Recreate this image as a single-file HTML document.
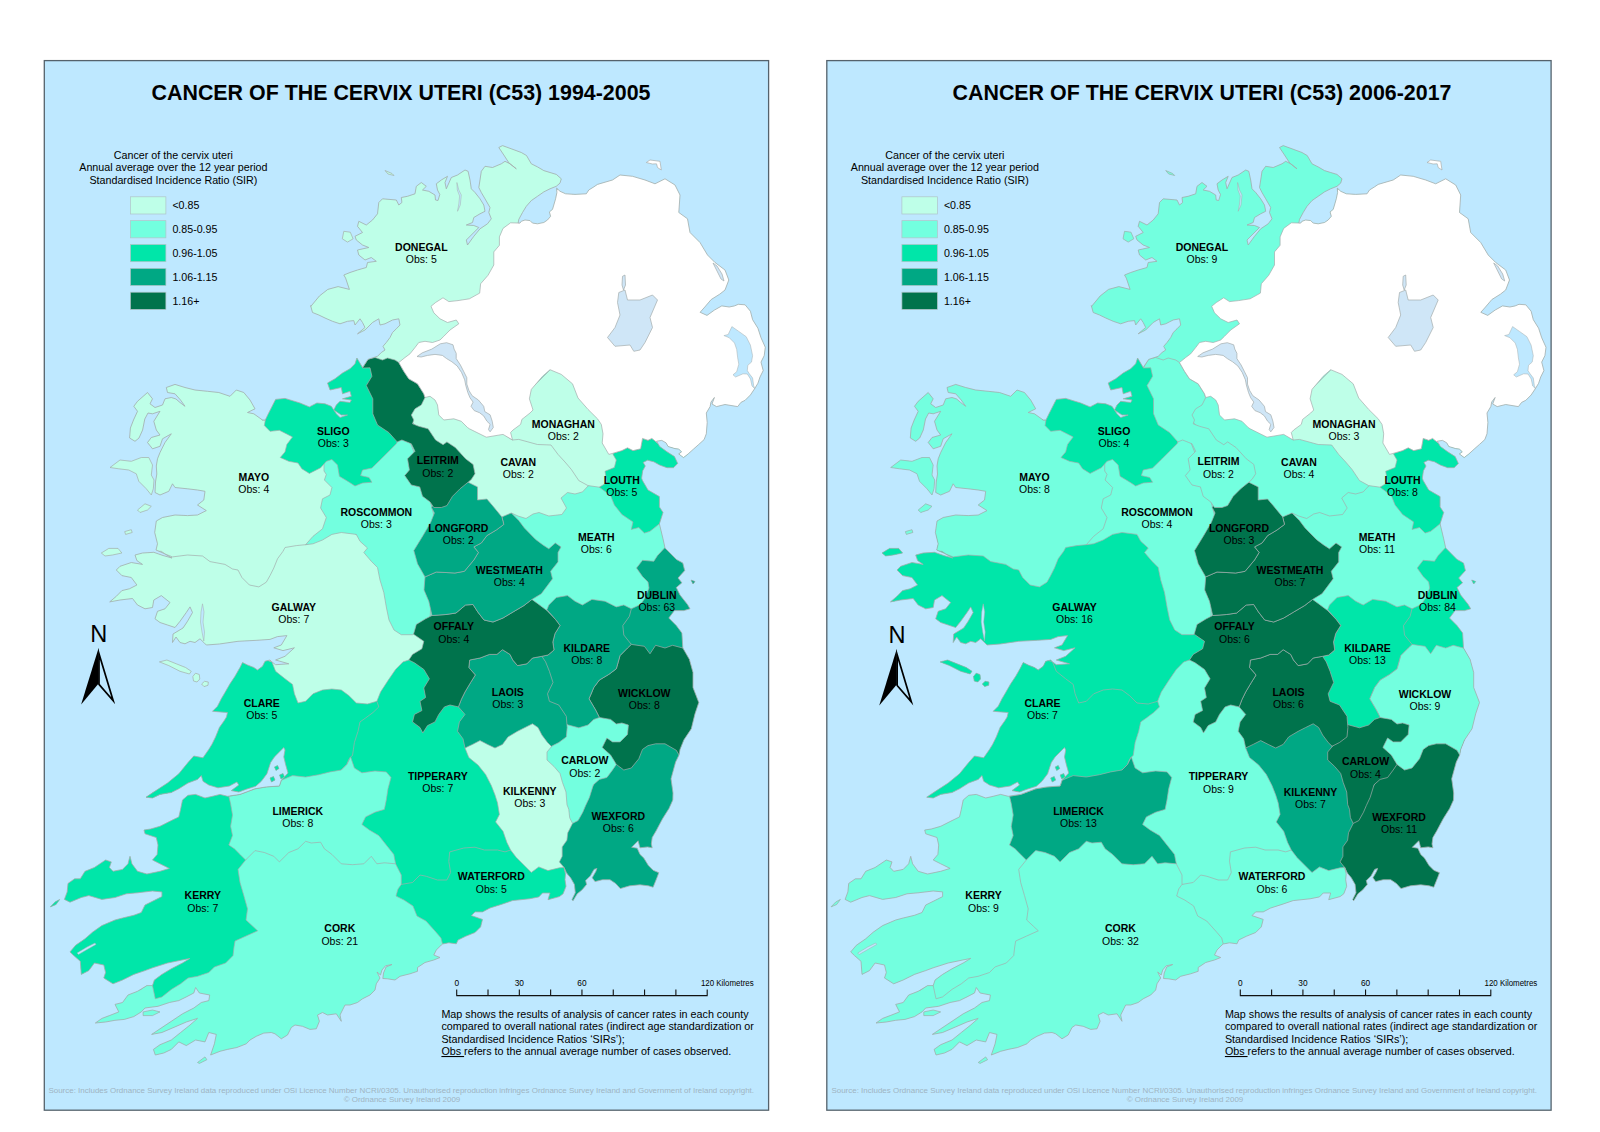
<!DOCTYPE html><html><head><meta charset="utf-8"><title>Cancer of the cervix uteri</title>
<style>html,body{margin:0;padding:0;background:#fff}body{width:1600px;height:1132px;overflow:hidden}svg{display:block;font-family:"Liberation Sans",sans-serif}</style></head><body>
<svg width="1600" height="1132" viewBox="0 0 1600 1132">
<rect width="1600" height="1132" fill="#fff"/>
<clipPath id="Lpanel"><rect x="44.3" y="60.6" width="724.3" height="1049.6"/></clipPath>
<rect x="44.3" y="60.6" width="724.3" height="1049.6" fill="#BEE8FF"/>
<g clip-path="url(#Lpanel)">
<g transform="translate(0,0)">
<clipPath id="Lclip"><path d="M310.9,306.3 319.4,296 327.8,289.4 338.1,286.6 349.4,289.4 345.6,278.1 343.8,275 350,272.5 357.5,270 366.3,267.5 367.5,262.5 376.3,261.3 371.3,257.5 365,260 358.8,255 357.5,250 368.8,247.5 362.5,245 356.3,240 355,236.3 362.5,232.5 357.5,226.3 358.8,221.3 366.3,225 372.5,220 377.5,213.8 378.8,202.5 382.5,198.8 396.3,200 398.8,205 401.9,202.5 401.3,197.5 407.5,196.3 415,193.8 416.3,186.3 421.3,182.5 426.3,186.3 422.5,190 428.8,191.3 435,195 435.5,200 438,200.5 439.8,194.5 437.5,190 436.3,183.8 441.3,180 447.5,176.3 445,182.5 446.3,188.8 451.3,177.5 457.5,175 465,170 468.1,171.3 470,180 471.3,188.8 475,192.5 480,198.8 483.8,205 485,211.3 480,213.8 473.8,217.5 472.5,222.5 466.3,225 473.8,225.5 478.8,227.5 471.3,235 466.3,240 467.5,245 473.8,236.3 480,228.8 487.5,223.8 491.3,218.8 488.8,212.5 490,207.5 485,198.8 481.3,192.5 478.8,187.5 480,180 481.3,171.3 485,166.3 492.5,167.5 501.3,163.8 505,161.3 510,163.8 516.3,168.8 509,163 503.8,155 498.8,147.5 502.5,145.6 511.3,148.8 521.3,152.5 526.5,155.5 531.3,163.8 537.5,166.9 543.8,170.6 550,172.5 556.3,174.4 561.3,178.8 560,183.1 556.3,186.3 550,188.8 543.8,191.9 537.5,196.3 531.3,200.6 526.3,206.3 522.5,212.5 518.8,219.4 518.1,223.1 520,223.1 521.3,221.3 525,220 530,220.6 532.5,223.1 537.5,223.8 543.8,222.5 547.5,220 550.6,216.3 549.4,211.9 552.5,209.4 553.8,205 555.6,198.8 556.9,192.5 556.6,188.1 560,191.3 565.6,193.8 575,194.4 586.3,193.8 588.8,190 593.8,186.9 597.5,184.4 612.5,180 620,175 632.5,176.3 645,180 655,183.8 665,178.8 675,185 680,195 678.8,212.5 687.5,218.8 690,232.5 700,242.5 707.5,255 715,262.5 725,270 728.8,280 725,290 719.7,294.2 711.2,299.5 704.8,307 700.1,312.3 707,315.4 714.4,310.1 721.8,305.9 729.2,307 734.5,305.9 738.3,304.3 745.1,304.8 750.4,311.2 752.6,319.7 757.9,328.2 761,337.7 765.3,347.3 764.2,355.7 761,362.1 763.2,370.6 760,377 757.9,383.3 754.7,388.6 750.4,395 745.1,400.3 740.9,402.4 737.7,406.6 725,404.5 716.5,406.6 712,404 714.4,397.5 711,402 710.1,406.6 706.3,413 707.2,422.5 706.3,433.8 704.1,439.6 698.8,444.4 693.5,449.1 688.2,453.9 683.5,457.6 678.7,453.9 681.6,451.8 678.7,449.1 675,448.6 668.1,446.5 666,442.8 661.8,440.4 656.5,441.2 659.7,446.5 667,451.8 674.5,456.6 677.7,463.5 673.4,467.7 667,467.7 659.6,465 653.8,461.8 647.5,460.2 643.2,462.4 645.3,466 642.7,470.8 641.6,478.2 642.5,480.6 648,490 659.4,496.6 659.4,506.9 663,512.5 659.4,523.8 663,538.8 665,548 676.3,559.4 682.8,563 684.7,570.6 678,578 681.9,582.8 676.3,587.5 680,595 687.5,604.5 690,608.8 683.8,610.6 674.4,610.6 668.8,618 676.3,625.6 681.9,633 682.8,648 689.4,659.4 693,672.5 693,687.5 698.8,702.5 695,713.8 691.3,728.8 683.8,740 680,749.4 679,755 675.6,762 671,778.8 673,793 672.8,800 669,808.4 662.5,818.8 656,831 652.2,837.5 651.3,844 652.2,847.8 647.5,846.9 640,847.8 638.1,840.8 631.6,847.3 637.2,848.2 640,854.4 643.8,858.1 648.4,865.6 653.1,870.3 658.8,872.7 656.9,877.8 653.1,887.2 648.4,885.8 640,884.8 629.7,885.8 620.3,888.6 615.6,883.4 610,879.7 602.5,879.7 595,881.6 592.2,877.8 595.9,871.3 596.9,868.4 594,869.4 590.3,875.9 585.6,880.6 586.6,884.4 581.9,890 577.2,893.8 573,900.8 572,899.4 575.3,892.8 574.4,884.4 570.6,877.8 565.9,872.2 564,867.5 565.5,874 565,879.7 566,886.3 563.1,893.8 559.4,896.6 548,899.7 550,893 542.5,893 538.8,896.9 529.4,898.8 512.5,900.6 501.3,904.4 490,908 482.5,911.9 475,911.9 471.3,915.6 482.5,919.4 480.6,926.9 475,932.5 465.6,936.3 458,940 456.3,943.8 448.8,942.8 442.5,944 441.3,945 436.3,950 433.8,955 440,957.5 433.8,960 425,962.5 417.5,967.5 417.5,971.3 410,973.8 400,976.3 395,980 387.5,978.8 382.8,978.5 383.5,973 386,967 392,964.5 385.5,965.8 382,970 380.5,975 377,972 380,978 376.3,983.8 375,990 370,995 362.5,998.8 357.5,1002.5 350,1005 345,1005 342.5,1010 340,1015 341.3,1021.3 336.3,1013.8 327.5,1015 322.5,1012.5 317.5,1015 319.4,1021.3 316.3,1028.8 310,1029.4 302.5,1026.3 295,1025 291.3,1027.5 287.5,1035 281.3,1038.8 275,1033.8 271.3,1032.5 263.8,1033.1 256.3,1036.3 250,1040 246.3,1043.8 236.9,1047.5 227.5,1049.4 220,1051.3 210.6,1055 214.4,1043.8 216.3,1034.4 208.8,1032.5 205,1041.9 195.6,1040 186.3,1045.6 178.8,1041.9 171.3,1049.4 163.8,1053 155.3,1055 153.4,1049.4 160,1044.7 171.3,1040 180.6,1032.5 190,1025 197.5,1018.4 186.3,1022 175,1026.9 161.9,1032.5 151.6,1034.4 160,1028.8 171.3,1021.3 182.5,1013.8 193.8,1008 201.3,1002.5 208.8,1000.6 209.7,995 199.4,993 195.6,987.5 193.8,993 186.3,996.9 178.8,1000.6 169.4,1002.5 158,1006.3 145,1008 141.3,1011.9 133.8,1016.6 124.4,1019.4 115,1020.3 105.6,1022 95.3,1023 101.9,1018.4 109.4,1015.6 118.8,1011.9 115,1004.4 122.5,1002.5 128,995 137.5,991.3 146.9,985.6 152.5,985.6 154.4,980 161.9,974.4 171.3,968.8 182.5,963 190,958.4 180.6,960.3 167.5,963 152.5,967.8 145,970.6 133.8,974.4 122.5,980 113,983.8 103.8,978 105.6,972.5 103.8,965 94.4,963 88.8,970.6 81.3,974.4 80.3,961.3 73.8,955.6 70,951.9 75.6,945.3 85,938.8 92.5,932.2 101.9,925.6 115,920 122.5,918 133.8,915.3 141.3,912.5 145,905 152.5,901.3 161.9,896.6 161.9,891.9 152.5,891 137.5,892.8 126.3,893.8 115,897.5 101.9,899.4 88.8,895.6 81.3,897.5 70,902.2 64.4,899.4 67.2,891.9 68,883.4 74.7,878.8 80.3,878.8 85,871.3 94.4,867.5 105.6,860 111.3,861.9 109.4,867.5 113,871.3 122.5,869.4 128,863.8 130,856.3 131.9,863.8 137.5,871.3 146.9,874 160,871.3 169.4,868.4 160,863.8 152.5,860 157.2,854.4 158,845 156.3,837.5 145,833.8 144,830 150.6,829 160,826.3 171.3,820.6 178.8,816.9 180.6,809.4 182.5,800 188,795.3 195.6,794.4 205,798 212.5,796.3 220,794.4 227.5,796.3 240,794.4 255,788.8 266.3,786.9 279.4,786 281.3,780.3 288,773 285.6,764.4 283.8,756.9 285,750 283.8,747.5 274.4,756.9 270.6,762.5 266.9,773.8 261.3,781.3 255.6,786.3 246.3,789.2 238.8,792 231.3,790.6 238.8,785 236.9,782 229.4,786 218,787.8 208.8,785 203,781.3 201.3,775.6 197.5,779.4 188,783 178.8,788.8 171.3,792.5 160,794.4 152.5,798 146,797.2 154.4,791.6 167.5,783 178.8,773.8 188,762.5 193.8,756 203,757.8 208.8,749.4 211.9,744.4 215.6,736.9 219.4,727.5 224,721 226.5,717 227.5,712.5 220,711.9 212.5,711.3 217.5,706.3 221.3,698.8 225,692.5 230,683.8 235,676.3 240,667.5 242.5,662.5 247.5,665 253.8,667.5 257.5,670 262.5,666.3 265,661.3 270,660 271.9,661.9 275.6,664.7 288.8,663.8 275.6,660 285,656.3 294.4,647.8 283,650.6 273.8,647.8 281.3,645 286.9,635.6 277.5,636.6 270,639.4 256.9,640.3 238,641.3 219.4,644 206.3,645 203.8,642.5 200,638.8 195,642.5 190,641.3 185,643.8 180,642.5 176,637 172.5,642.5 173,634 178,631 183,628 187.5,621.3 192.5,612.5 190,606.9 186.3,612.5 180,621.3 175,627.5 167.5,625 160,622.5 155,618.8 157.5,611.3 165,608.8 170,602.5 161.3,595.6 153.8,600 152.5,607.5 145,608.8 137.5,605 132.5,598.5 120,600 109.7,601.9 116.3,596.3 121.9,590.6 129.4,588.8 136.9,585 131.3,577.5 121.9,575.6 116.3,570 120,566.3 131.3,562.5 142.5,564.4 136.9,560.6 135,555 142.5,553 153.8,552.3 163,555.5 172,558 164,553.5 156,550 157.5,543.8 154.7,532.5 156.3,521 162.5,517.5 175,515 187.5,515.6 197.5,515 206.3,510.6 197.5,505 203.8,500 205,491.3 197.5,490 187.5,488.8 175,487.5 172.5,483.8 168.8,491.3 160,495 155,492.5 155.5,482 156.8,474 156.3,466 157.5,458.8 160,452.5 165,442.5 171.3,433.8 162.5,438.8 160,446.3 152.5,448.8 147.5,442.5 151.3,437.5 160,435 156.3,430 153.8,421.3 160,411.3 152.5,413.8 148,413 144.8,419 142.6,430 139,438 135,441.3 129.6,438 130.4,428 133.5,420 137.5,411.3 133.8,406.3 137.5,401.3 147.5,392.5 152.5,398.8 150,403.8 155,407.5 162.5,405 165,398.8 171.3,397.5 176,399 180,402.5 185,406.3 180.5,400 175,393.8 167.5,392.5 166.3,387.5 175,384.4 185,387.5 195,390 207.5,391.3 218.8,392.5 230,396.3 236.3,390 243.8,392.5 250,400 255,408.8 247.5,412.5 253.8,413.8 262.5,420 265.3,420 268,414.4 275.6,399.4 285,398.4 300,403 309.4,406.9 316.9,403 325,403.8 331.3,406.3 336.3,413.8 340,417.5 347.5,415 341.3,415 333.8,410 336.3,405 340,401.3 350,402.5 351.3,400 342.5,398.8 351.3,396.3 350,391.3 342.5,393.8 341.3,387.5 330,390 327.5,383 335,378.8 342.5,373 350,368.8 355,363.8 356.9,358 362.5,367.5 368,359.4 377.5,356.3 381.3,352.5 385,350 383,346.3 386.3,342.5 390,337.5 392.5,332.5 396.3,328.8 400,325 398.8,318.8 392.5,320 385,323.8 380,325 378.8,318.8 372.5,322.5 365,330 357.5,333.8 365,327.5 362.5,322.5 360,318.8 355,325 353.8,320.6 347.5,321.3 340,323.8 332.5,321.3 325,318 318.8,315 312.5,312.5 310.6,305.6ZM343.8,231.3 350.3,232.2 353.1,238.8 347.5,242.1 342.3,238.8ZM385,170.5 392,173.5 394,175.5 388,174ZM110,467.5 120,460 131.3,461.3 141.3,457.5 148.8,457.5 152.5,465 151.3,475 154,480 153.3,488.8 151.3,495 146.3,488.8 138.8,481.3 136.3,473.8 128.8,470 118.8,468.8ZM137.5,510 145,503.8 151.3,506.3 147.5,510 140,512.5ZM124.7,531.6 131.3,529.7 132.2,532.5 125.6,534.4ZM101.3,553 108.8,548.4 118,548.4 121.9,553 112.5,555 105,556ZM159.4,661.9 166.9,660 176.3,663.8 185.6,667.5 191.3,671.3 189.4,674 180,671.3 168.8,665.6ZM192.8,676.5 195.5,673.2 199.3,674.5 199.8,679 197,682 193.5,681ZM201.6,684 204.5,681.3 208.3,682 208,685.3 204,686.6ZM50.3,906.9 55,902 59.7,899.4 56,904.5ZM143.1,1011.9 152.5,1010 160,1011.9 152.5,1015.6 143.1,1015.6ZM197.5,1062.5 205,1056.9 206.9,1059.7 199.4,1063.4ZM646.3,162.5 650,160 660,161.3 661.3,170 657.5,167.5 656.5,163.8 652.5,164ZM691,580 695,581.5 693,584ZM274.5,767 277.5,765.5 279,768.5 276,770.5ZM279.5,775 283,773.5 284.5,777 281,779ZM270,778 273.5,776.5 275,780 271.5,782Z"/></clipPath>
<g clip-path="url(#Lclip)" stroke="#a4acac" stroke-width="0.7" stroke-linejoin="round">
<path d="M310.9,306.3 319.4,296 327.8,289.4 338.1,286.6 349.4,289.4 345.6,278.1 343.8,275 350,272.5 357.5,270 366.3,267.5 367.5,262.5 376.3,261.3 371.3,257.5 365,260 358.8,255 357.5,250 368.8,247.5 362.5,245 356.3,240 355,236.3 362.5,232.5 357.5,226.3 358.8,221.3 366.3,225 372.5,220 377.5,213.8 378.8,202.5 382.5,198.8 396.3,200 398.8,205 401.9,202.5 401.3,197.5 407.5,196.3 415,193.8 416.3,186.3 421.3,182.5 426.3,186.3 422.5,190 428.8,191.3 435,195 435.5,200 438,200.5 439.8,194.5 437.5,190 436.3,183.8 441.3,180 447.5,176.3 445,182.5 446.3,188.8 451.3,177.5 457.5,175 465,170 468.1,171.3 470,180 471.3,188.8 475,192.5 480,198.8 483.8,205 485,211.3 480,213.8 473.8,217.5 472.5,222.5 466.3,225 473.8,225.5 478.8,227.5 471.3,235 466.3,240 467.5,245 473.8,236.3 480,228.8 487.5,223.8 491.3,218.8 488.8,212.5 490,207.5 485,198.8 481.3,192.5 478.8,187.5 480,180 481.3,171.3 485,166.3 492.5,167.5 501.3,163.8 505,161.3 510,163.8 516.3,168.8 509,163 503.8,155 498.8,147.5 502.5,145.6 511.3,148.8 521.3,152.5 526.5,155.5 531.3,163.8 537.5,166.9 543.8,170.6 550,172.5 556.3,174.4 561.3,178.8 560,183.1 556.3,186.3 550,188.8 543.8,191.9 537.5,196.3 531.3,200.6 526.3,206.3 522.5,212.5 518.8,219.4 518.1,223.1 520,223.1 521.3,221.3 525,220 530,220.6 532.5,223.1 537.5,223.8 543.8,222.5 547.5,220 550.6,216.3 549.4,211.9 552.5,209.4 553.8,205 555.6,198.8 556.9,192.5 556.6,188.1 560,191.3 565.6,193.8 575,194.4 586.3,193.8 588.8,190 593.8,186.9 597.5,184.4 612.5,180 620,175 632.5,176.3 645,180 655,183.8 665,178.8 675,185 680,195 678.8,212.5 687.5,218.8 690,232.5 700,242.5 707.5,255 715,262.5 725,270 728.8,280 725,290 719.7,294.2 711.2,299.5 704.8,307 700.1,312.3 707,315.4 714.4,310.1 721.8,305.9 729.2,307 734.5,305.9 738.3,304.3 745.1,304.8 750.4,311.2 752.6,319.7 757.9,328.2 761,337.7 765.3,347.3 764.2,355.7 761,362.1 763.2,370.6 760,377 757.9,383.3 754.7,388.6 750.4,395 745.1,400.3 740.9,402.4 737.7,406.6 725,404.5 716.5,406.6 712,404 714.4,397.5 711,402 710.1,406.6 706.3,413 707.2,422.5 706.3,433.8 704.1,439.6 698.8,444.4 693.5,449.1 688.2,453.9 683.5,457.6 678.7,453.9 681.6,451.8 678.7,449.1 675,448.6 668.1,446.5 666,442.8 661.8,440.4 656.5,441.2 659.7,446.5 667,451.8 674.5,456.6 677.7,463.5 673.4,467.7 667,467.7 659.6,465 653.8,461.8 647.5,460.2 643.2,462.4 645.3,466 642.7,470.8 641.6,478.2 642.5,480.6 648,490 659.4,496.6 659.4,506.9 663,512.5 659.4,523.8 663,538.8 665,548 676.3,559.4 682.8,563 684.7,570.6 678,578 681.9,582.8 676.3,587.5 680,595 687.5,604.5 690,608.8 683.8,610.6 674.4,610.6 668.8,618 676.3,625.6 681.9,633 682.8,648 689.4,659.4 693,672.5 693,687.5 698.8,702.5 695,713.8 691.3,728.8 683.8,740 680,749.4 679,755 675.6,762 671,778.8 673,793 672.8,800 669,808.4 662.5,818.8 656,831 652.2,837.5 651.3,844 652.2,847.8 647.5,846.9 640,847.8 638.1,840.8 631.6,847.3 637.2,848.2 640,854.4 643.8,858.1 648.4,865.6 653.1,870.3 658.8,872.7 656.9,877.8 653.1,887.2 648.4,885.8 640,884.8 629.7,885.8 620.3,888.6 615.6,883.4 610,879.7 602.5,879.7 595,881.6 592.2,877.8 595.9,871.3 596.9,868.4 594,869.4 590.3,875.9 585.6,880.6 586.6,884.4 581.9,890 577.2,893.8 573,900.8 572,899.4 575.3,892.8 574.4,884.4 570.6,877.8 565.9,872.2 564,867.5 565.5,874 565,879.7 566,886.3 563.1,893.8 559.4,896.6 548,899.7 550,893 542.5,893 538.8,896.9 529.4,898.8 512.5,900.6 501.3,904.4 490,908 482.5,911.9 475,911.9 471.3,915.6 482.5,919.4 480.6,926.9 475,932.5 465.6,936.3 458,940 456.3,943.8 448.8,942.8 442.5,944 441.3,945 436.3,950 433.8,955 440,957.5 433.8,960 425,962.5 417.5,967.5 417.5,971.3 410,973.8 400,976.3 395,980 387.5,978.8 382.8,978.5 383.5,973 386,967 392,964.5 385.5,965.8 382,970 380.5,975 377,972 380,978 376.3,983.8 375,990 370,995 362.5,998.8 357.5,1002.5 350,1005 345,1005 342.5,1010 340,1015 341.3,1021.3 336.3,1013.8 327.5,1015 322.5,1012.5 317.5,1015 319.4,1021.3 316.3,1028.8 310,1029.4 302.5,1026.3 295,1025 291.3,1027.5 287.5,1035 281.3,1038.8 275,1033.8 271.3,1032.5 263.8,1033.1 256.3,1036.3 250,1040 246.3,1043.8 236.9,1047.5 227.5,1049.4 220,1051.3 210.6,1055 214.4,1043.8 216.3,1034.4 208.8,1032.5 205,1041.9 195.6,1040 186.3,1045.6 178.8,1041.9 171.3,1049.4 163.8,1053 155.3,1055 153.4,1049.4 160,1044.7 171.3,1040 180.6,1032.5 190,1025 197.5,1018.4 186.3,1022 175,1026.9 161.9,1032.5 151.6,1034.4 160,1028.8 171.3,1021.3 182.5,1013.8 193.8,1008 201.3,1002.5 208.8,1000.6 209.7,995 199.4,993 195.6,987.5 193.8,993 186.3,996.9 178.8,1000.6 169.4,1002.5 158,1006.3 145,1008 141.3,1011.9 133.8,1016.6 124.4,1019.4 115,1020.3 105.6,1022 95.3,1023 101.9,1018.4 109.4,1015.6 118.8,1011.9 115,1004.4 122.5,1002.5 128,995 137.5,991.3 146.9,985.6 152.5,985.6 154.4,980 161.9,974.4 171.3,968.8 182.5,963 190,958.4 180.6,960.3 167.5,963 152.5,967.8 145,970.6 133.8,974.4 122.5,980 113,983.8 103.8,978 105.6,972.5 103.8,965 94.4,963 88.8,970.6 81.3,974.4 80.3,961.3 73.8,955.6 70,951.9 75.6,945.3 85,938.8 92.5,932.2 101.9,925.6 115,920 122.5,918 133.8,915.3 141.3,912.5 145,905 152.5,901.3 161.9,896.6 161.9,891.9 152.5,891 137.5,892.8 126.3,893.8 115,897.5 101.9,899.4 88.8,895.6 81.3,897.5 70,902.2 64.4,899.4 67.2,891.9 68,883.4 74.7,878.8 80.3,878.8 85,871.3 94.4,867.5 105.6,860 111.3,861.9 109.4,867.5 113,871.3 122.5,869.4 128,863.8 130,856.3 131.9,863.8 137.5,871.3 146.9,874 160,871.3 169.4,868.4 160,863.8 152.5,860 157.2,854.4 158,845 156.3,837.5 145,833.8 144,830 150.6,829 160,826.3 171.3,820.6 178.8,816.9 180.6,809.4 182.5,800 188,795.3 195.6,794.4 205,798 212.5,796.3 220,794.4 227.5,796.3 240,794.4 255,788.8 266.3,786.9 279.4,786 281.3,780.3 288,773 285.6,764.4 283.8,756.9 285,750 283.8,747.5 274.4,756.9 270.6,762.5 266.9,773.8 261.3,781.3 255.6,786.3 246.3,789.2 238.8,792 231.3,790.6 238.8,785 236.9,782 229.4,786 218,787.8 208.8,785 203,781.3 201.3,775.6 197.5,779.4 188,783 178.8,788.8 171.3,792.5 160,794.4 152.5,798 146,797.2 154.4,791.6 167.5,783 178.8,773.8 188,762.5 193.8,756 203,757.8 208.8,749.4 211.9,744.4 215.6,736.9 219.4,727.5 224,721 226.5,717 227.5,712.5 220,711.9 212.5,711.3 217.5,706.3 221.3,698.8 225,692.5 230,683.8 235,676.3 240,667.5 242.5,662.5 247.5,665 253.8,667.5 257.5,670 262.5,666.3 265,661.3 270,660 271.9,661.9 275.6,664.7 288.8,663.8 275.6,660 285,656.3 294.4,647.8 283,650.6 273.8,647.8 281.3,645 286.9,635.6 277.5,636.6 270,639.4 256.9,640.3 238,641.3 219.4,644 206.3,645 203.8,642.5 200,638.8 195,642.5 190,641.3 185,643.8 180,642.5 176,637 172.5,642.5 173,634 178,631 183,628 187.5,621.3 192.5,612.5 190,606.9 186.3,612.5 180,621.3 175,627.5 167.5,625 160,622.5 155,618.8 157.5,611.3 165,608.8 170,602.5 161.3,595.6 153.8,600 152.5,607.5 145,608.8 137.5,605 132.5,598.5 120,600 109.7,601.9 116.3,596.3 121.9,590.6 129.4,588.8 136.9,585 131.3,577.5 121.9,575.6 116.3,570 120,566.3 131.3,562.5 142.5,564.4 136.9,560.6 135,555 142.5,553 153.8,552.3 163,555.5 172,558 164,553.5 156,550 157.5,543.8 154.7,532.5 156.3,521 162.5,517.5 175,515 187.5,515.6 197.5,515 206.3,510.6 197.5,505 203.8,500 205,491.3 197.5,490 187.5,488.8 175,487.5 172.5,483.8 168.8,491.3 160,495 155,492.5 155.5,482 156.8,474 156.3,466 157.5,458.8 160,452.5 165,442.5 171.3,433.8 162.5,438.8 160,446.3 152.5,448.8 147.5,442.5 151.3,437.5 160,435 156.3,430 153.8,421.3 160,411.3 152.5,413.8 148,413 144.8,419 142.6,430 139,438 135,441.3 129.6,438 130.4,428 133.5,420 137.5,411.3 133.8,406.3 137.5,401.3 147.5,392.5 152.5,398.8 150,403.8 155,407.5 162.5,405 165,398.8 171.3,397.5 176,399 180,402.5 185,406.3 180.5,400 175,393.8 167.5,392.5 166.3,387.5 175,384.4 185,387.5 195,390 207.5,391.3 218.8,392.5 230,396.3 236.3,390 243.8,392.5 250,400 255,408.8 247.5,412.5 253.8,413.8 262.5,420 265.3,420 268,414.4 275.6,399.4 285,398.4 300,403 309.4,406.9 316.9,403 325,403.8 331.3,406.3 336.3,413.8 340,417.5 347.5,415 341.3,415 333.8,410 336.3,405 340,401.3 350,402.5 351.3,400 342.5,398.8 351.3,396.3 350,391.3 342.5,393.8 341.3,387.5 330,390 327.5,383 335,378.8 342.5,373 350,368.8 355,363.8 356.9,358 362.5,367.5 368,359.4 377.5,356.3 381.3,352.5 385,350 383,346.3 386.3,342.5 390,337.5 392.5,332.5 396.3,328.8 400,325 398.8,318.8 392.5,320 385,323.8 380,325 378.8,318.8 372.5,322.5 365,330 357.5,333.8 365,327.5 362.5,322.5 360,318.8 355,325 353.8,320.6 347.5,321.3 340,323.8 332.5,321.3 325,318 318.8,315 312.5,312.5 310.6,305.6Z" fill="#73FFDF" stroke="none"/>
<path d="M60,960 140,990 215,935 236,862 250,838 392,835 399,858 410,880 450,950 450,1075 60,1075Z" fill="#73FFDF"/>
<path d="M152.5,985.6 155.3,998.8 161.9,996.9 171.3,989.4 180.6,983.8 188,978 197.5,976.3 208.8,972.5 214.4,966.9 225.6,963 233,955.6 234,947 235,941 246,936 257.6,930.8 253,926.5 246,920 247.5,908.8 243.8,895.6 240,882.5 238,869.4 245.6,860 250,845 262,838 262,792 40,792 40,1010 100,996 130,985.5 148,981.5Z" fill="#00E6A9"/>
<path d="M395.6,863.8 401.3,875 401.3,884.4 420,890 460,890 520,860 520,760 480,720 440,690 420,650 390,650 350,700 340,780 350,790 362,840 390,855Z" fill="#00E6A9"/>
<path d="M442.5,944 441,938 435,931 426,921 417,916 413,906 404,900 396,896 398,889 401.3,884.4 412.5,882.5 420,875 426.3,876.3 437.5,880 446.9,880 450.6,872.5 448.8,861.3 449.7,851.9 463.8,848 475,847.2 484.4,850 497.5,850 505,851.9 510.6,850 520,845 570,850 568,870 568,905 560,960 450,960Z" fill="#00E6A9"/>
<path d="M408.8,660 403,661.9 395.6,669.4 388,680.6 380.6,691.9 376.9,701.3 360,715 300,715 270,690 250,672 215,665 210,700 90,700 90,535 160,535 250,540 300,535 340,525 400,560 432,630 432,655Z" fill="#BEFFE8"/>
<path d="M271.9,661.9 275.6,671.3 285,678.8 292.5,684.4 294.4,693.8 298,703 305.6,701.3 313,693.8 322.5,690 331.9,689 341.3,690 348.8,695.6 356.3,703 367.5,704 376.9,701.3 378.8,706.9 373,712.5 365.6,718 360,721.9 358,731.3 354.4,742.5 352.5,755.6 350.6,756.9 348.8,759.4 346.9,764.4 341.3,770 335,790 262,790 246,790.8 238,793.4 230,793.5 215,791.5 200,788 185,791 165,800 130,805 130,800 205,745 215,690 238,660 250,655Z" fill="#00E6A9"/>
<path d="M228.8,796.3 240,794.4 255,788.8 266.3,786.9 279.4,786 281.3,780.3 292.5,775.6 305.6,777 318.8,774.7 330,771.9 341.3,770 346.9,764.4 350.6,756.9 354.4,768 361.9,772.8 375,771 386.3,771.9 391,777.5 388,788.8 386.3,800 384.4,809.4 375,812.2 365.6,816.9 361.9,824.4 369.4,830 378.8,835.6 386.3,845 393.8,854.4 395.6,863.8 384.4,862.8 376.9,863.8 371.3,856.3 363.8,863.8 352.5,864.7 341.3,863.8 331.9,854.4 324.4,848.8 320.6,842.2 311.3,843 305.6,841.3 298,848.8 288.8,852.5 279.4,861.9 273.8,856.3 264.4,852.5 255,850.6 245.6,860 240,854.4 234.4,848.8 228.8,845 232.5,835.6 230.6,826.3 232.5,815 230.6,803.8Z" fill="#73FFDF"/>
<path d="M150,551.3 161.3,551.3 165,554 172.5,556.9 187.5,555 202.5,556 210,561.6 225,564.4 232.5,569 238,570 241.9,577.5 249.4,585 258.8,586.9 266.3,582.2 270,575.6 273.8,568 277.5,558.8 283,551.3 285,547.5 296.3,545.6 305.6,544.7 330,535 335,480 330,440 300,430 275,410 270,370 90,370 90,545Z" fill="#BEFFE8"/>
<path d="M324,471 326.3,474.4 324.4,480 331.9,487.5 330,495 322.5,498.8 320.6,508 326.3,517.5 322.5,528.8 313,536.3 305.6,544.7 313,543.8 322.5,540 331.9,534.4 341.3,532.5 356.3,534.4 360,541.3 367.5,548 363.8,552.5 371.3,561.3 377.5,567.5 380,580 383.8,592.5 386.5,608 389,620 394,630 401.3,634.7 412.5,634.7 430,620 435,520 425,480 408,437 380,440 340,450 324,460Z" fill="#73FFDF"/>
<path d="M368,356 374,366 400,368 450,362 560,240 575,185 575,130 290,130 290,340 350,350Z" fill="#BEFFE8"/>
<path d="M265.3,420 264.4,425.6 270,431.3 279.4,430.3 292.5,436.9 286.9,444.4 285,451.9 280.3,457.5 288.8,461.3 298,463 301.9,468.8 309.4,473.4 320.6,467.8 326.3,461.3 331.9,459.4 337.5,465 339.4,476.3 348.8,481.9 355,486 362.5,483 371.9,482.2 369,477.5 360.6,475.6 362.5,470 371.9,468 381.3,458.8 388.8,451.3 396.3,443.8 397.2,441.9 400,430 385,400 380,372 372,365 362.5,367.2 357,352 350,340 260,380 262,420Z" fill="#00E6A9"/>
<path d="M422,395 470,395 520,430 560,440 600,480 600,500 560,525 510,525 480,520 465,490 450,470 430,440 405,415 415,398Z" fill="#BEFFE8"/>
<path d="M511.3,513 518,516 526,518.5 533,514 539,512.5 548.8,516 561.9,514.5 566.5,508 561,498 567.5,492.5 575,494 582.5,491.9 588,486 595,480 625,500 650,520 700,525 700,560 670,580 652,612 600,619 560,615 545,615 528,606.5 530,595 535,560 510,525Z" fill="#73FFDF"/>
<path d="M512.5,440 518.8,439.4 537.5,444.5 551,445 558,454.4 565,462 571.3,469.4 578.8,480.6 588,485.6 599.4,487.2 625,480 625,452 610,420 560,360 520,400 505,435Z" fill="#BEFFE8"/>
<path d="M564,867.5 568,876 570.5,886 569,897 569,906 700,906 700,740 640,740 610,760 590,790 575,815 560,830 555,860Z" fill="#00A884"/>
<path d="M465,748 480,735 530,714 551.3,746.3 565,760 575,800 572.5,823.4 567.8,832.8 566.9,840.3 562.2,846.9 562.2,856.3 559.4,861.9 564,867.5 559.4,867.8 548,870.6 538.8,866.9 531.3,872.5 523.8,865 516.3,857.5 510.6,850 506.9,842.5 503,831.3 495.6,821.9 499.4,814.4 497.5,803 495,795 491.3,785.6 485.6,774.4 478,765 468.8,757.5Z" fill="#BEFFE8"/>
<path d="M552,746 547,752 547,760 554,766.5 560,773.5 562.5,782.5 566,792 567,804.7 568.8,809.4 569.7,817.8 572.5,823.4 578.1,820.6 582.8,812.2 585.6,805.6 589.4,797.5 593.4,784.7 599.4,779.4 606.9,777.5 612.5,770 616.3,764.4 615,750 630,740 632,722 600,712 568,720 560,735Z" fill="#73FFDF"/>
<path d="M665,547.5 657.5,555.6 653.8,561.3 642.5,560.3 636.5,568 642.5,576.5 648,582 649,588 645,598 640.6,604.4 631.3,608.8 615,620 615,640 630,655 690,660 700,640 700,545Z" fill="#00A884"/>
<path d="M631.3,644.4 644.4,646.3 650,653.8 655.6,645.3 665,648 672.5,645.3 682.8,648 710,648 710,757 679,755 676.3,750.3 665,743.8 655.6,743.8 648,745.6 642.5,749.4 638.8,758.8 631.3,768 623.8,770 616.3,764.4 610.6,755 602.2,747.5 606.9,738 612.5,741.9 620,741.9 627.5,734.4 628.4,725 621.9,723 616.3,724 610.6,719.4 599.4,717.5 595.6,710 589,698.8 593.8,687.5 599.4,680 608.8,674.4 616.3,668.8 620,655.6 627.5,648Z" fill="#00734C"/>
<path d="M546.9,609.7 548.8,605 556.3,597.5 567.5,595.6 575,601.3 582.5,605 591.9,599.4 605,601.3 616.3,606.9 623.8,605 631.3,608.8 629.4,616.3 622.8,625.6 623.8,635 631.3,644.4 627.5,648 620,655.6 616.3,668.8 608.8,674.4 599.4,680 593.8,687.5 589,698.8 595.6,710 599.4,717.5 593.8,719.4 588,725 578.8,727.8 568.4,725 560,722 545,700 540,670 541.9,656.3 548,655 554,650 552.8,642 555,633.5 560,625.5 555.5,619.5Z" fill="#00A884"/>
<path d="M541.9,656.3 545.6,661.9 549.4,671.3 553,682.5 547.5,693.8 549.4,701.3 558.8,705 566.3,716.3 567.2,727.5 566.3,736.9 558.8,742.5 551.3,746.3 547.5,742.5 541.9,735 538,727.5 532.5,723.8 525,727.5 517.5,731.3 508,736.9 502.5,744.4 495,748 487.5,744.4 480,740.6 472.5,744.4 465,748 463,738.8 457.5,731.3 459.4,721.9 465,714.4 458.4,706.9 461.3,699.4 465,691.9 470.6,682.5 475.3,675 468.8,667.5 469.7,660 480,658 489.4,654.4 496.9,654.4 502.5,649.7 510,654.4 512.8,660 517.5,665.6 526.9,663.8 532.5,658Z" fill="#00A884"/>
<path d="M432,615.5 446,614.5 456,613 465.5,605 473,604.5 477.8,612 484,620 493,622 503,618 513,612 524,605.5 531.9,599.4 537.5,603.5 546.9,610.5 555.5,619.5 560,625.5 555,633.5 552.8,642 554,650 548,655 541.9,656.3 532.5,658 526.9,663.8 517.5,665.6 512.8,660 510,654.4 502.5,649.7 496.9,654.4 489.4,654.4 480,658 469.7,660 468.8,667.5 475.3,675 470.6,682.5 465,691.9 461.3,699.4 458.4,706.9 450,705 444.4,706.9 438.8,714.4 435,721.9 427.5,725.6 422.8,733 420,727.5 412.5,721.9 414.4,714.4 421.9,710.6 420,701.3 425.6,697.5 423.8,688 429.4,678.8 423.8,669.4 414.4,662.8 408.8,660 412.5,654.4 421.9,648.8 423.8,641.3 413.5,634.2 416.3,624.4 425.6,618.8Z" fill="#00734C"/>
<path d="M501.9,516.9 511.3,513 518.8,520.6 524.4,528 535.6,539.4 543,545 548.8,548.8 555.3,543 561,546.9 558,552.5 558,561.9 550.6,571.3 552.5,578.8 546.9,586.3 541.3,593.8 531.9,599.4 524,605.5 513,612 503,618 493,622 484,620 477.8,612 473,604.5 465.5,605 456,613 446,614.5 432,615.5 428.8,601.3 424,590 425,576.9 436.3,572 455,573 464.4,571.3 473.8,560 478.4,552.5 473.8,546.9 481.3,543 486.9,535.6 496.3,530 503.8,524.4Z" fill="#00A884"/>
<path d="M468.1,482.2 477.5,486.9 477.5,500 486.9,499 492.5,505.6 501.9,516.9 503.8,524.4 496.3,530 486.9,535.6 481.3,543 473.8,546.9 478.4,552.5 473.8,560 464.4,571.3 455,573 436.3,572 425,576.9 417.5,563.8 413.8,550.6 423,535.6 430.6,522.5 434.4,513 431.5,507.5 436,500 455,485Z" fill="#00A884"/>
<path d="M362.5,368 368,359 375,357.5 382.5,360 387.5,358 395,360 398.8,362.5 403.8,371.3 408.8,378.8 417.5,383.8 423.8,393.8 425,397.5 421.3,405 415,408.8 411.3,415 413.8,420 412.5,423.8 418.8,426.3 428.1,428.8 435.6,440 443.1,444.7 446.9,441.9 455.3,447.5 465.6,458.8 473.1,464.4 475,473.8 471.3,479.4 468.1,482.2 460,488.8 452.5,496.3 446.9,505.6 441.3,507.5 433.8,507.5 430,501.9 422.5,496.3 419.7,486.9 411.3,485 404.7,475.6 409.4,470 407.5,458.8 415,451.3 411.3,443.8 401.9,440 397.2,441.9 388.8,432.5 377.5,425 372.8,413.8 372.8,398.8 366.3,385.6 371.9,376.3 370,367.8Z" fill="#00734C"/>
<path d="M599.4,487.2 606.9,482.5 605,471.3 614.4,467.5 616.3,460 612.5,453.4 621.9,450.6 627.5,447.8 633,450.6 640.6,448.8 642.5,438.4 648,440.3 651.9,438.4 657.5,443 690,445 690,524 659.4,523.8 650,531.3 644.4,533 638.8,527.5 631.3,529.4 633,521.9 621.9,514.4 614.4,505 610.6,495.6Z" fill="#00E6A9"/>
<path d="M517.5,223 510.6,222.8 503,228.4 499.4,236.9 499.4,245.3 493.8,251.9 493.8,265 488,275.3 480.6,283.8 479.7,293.1 469.4,298.8 458,300.6 448.8,301.6 443,297.8 435.6,302.5 431,306.3 433.8,312.8 440,318.8 447.5,322.5 456.3,320 458.8,323.8 450,330 443.8,336.3 440,340 432.5,342.5 425,341.3 418.8,342.5 415,347.5 410,353.8 405,357.5 398.8,362.5 403.8,371.3 408.8,378.8 417.5,383.8 423.8,393.8 425,397.5 430,396.3 435,400 437.5,405 438.8,415 443.8,420 453.8,418.8 461.3,421.3 467.5,427.5 469.4,428.8 486.3,437.2 503,434.4 512.5,440 510.6,432.5 513,430 520.6,424.4 521.9,419.4 530,413 533,410 529.4,398.8 531.3,389.4 542.5,376.3 550,369.7 561.3,374.4 572.5,383.8 578,398 588,409.4 597.5,418.8 601.3,424.4 603,433.8 602.2,443 608.8,454.4 612.5,453.4 621.9,450.6 627.5,447.8 633,450.6 640.6,448.8 642.5,438.4 648,440.3 651.9,438.4 657.5,443 668,451 681,460.5 700,470 790,470 790,140 575,140 572,185 559,188 545,200 530,212 520,222Z" fill="#FFFFFF"/>
</g>
<path d="M343.8,231.3 350.3,232.2 353.1,238.8 347.5,242.1 342.3,238.8Z" fill="#BEFFE8" stroke="#a4acac" stroke-width="0.7"/>
<path d="M385,170.5 392,173.5 394,175.5 388,174Z" fill="#BEFFE8" stroke="#a4acac" stroke-width="0.7"/>
<path d="M110,467.5 120,460 131.3,461.3 141.3,457.5 148.8,457.5 152.5,465 151.3,475 154,480 153.3,488.8 151.3,495 146.3,488.8 138.8,481.3 136.3,473.8 128.8,470 118.8,468.8Z" fill="#BEFFE8" stroke="#a4acac" stroke-width="0.7"/>
<path d="M137.5,510 145,503.8 151.3,506.3 147.5,510 140,512.5Z" fill="#BEFFE8" stroke="#a4acac" stroke-width="0.7"/>
<path d="M124.7,531.6 131.3,529.7 132.2,532.5 125.6,534.4Z" fill="#BEFFE8" stroke="#a4acac" stroke-width="0.7"/>
<path d="M101.3,553 108.8,548.4 118,548.4 121.9,553 112.5,555 105,556Z" fill="#BEFFE8" stroke="#a4acac" stroke-width="0.7"/>
<path d="M159.4,661.9 166.9,660 176.3,663.8 185.6,667.5 191.3,671.3 189.4,674 180,671.3 168.8,665.6Z" fill="#BEFFE8" stroke="#a4acac" stroke-width="0.7"/>
<path d="M192.8,676.5 195.5,673.2 199.3,674.5 199.8,679 197,682 193.5,681Z" fill="#BEFFE8" stroke="#a4acac" stroke-width="0.7"/>
<path d="M201.6,684 204.5,681.3 208.3,682 208,685.3 204,686.6Z" fill="#BEFFE8" stroke="#a4acac" stroke-width="0.7"/>
<path d="M50.3,906.9 55,902 59.7,899.4 56,904.5Z" fill="#00E6A9" stroke="#a4acac" stroke-width="0.7"/>
<path d="M143.1,1011.9 152.5,1010 160,1011.9 152.5,1015.6 143.1,1015.6Z" fill="#73FFDF" stroke="#a4acac" stroke-width="0.7"/>
<path d="M197.5,1062.5 205,1056.9 206.9,1059.7 199.4,1063.4Z" fill="#73FFDF" stroke="#a4acac" stroke-width="0.7"/>
<path d="M646.3,162.5 650,160 660,161.3 661.3,170 657.5,167.5 656.5,163.8 652.5,164Z" fill="#FFFFFF" stroke="#a4acac" stroke-width="0.7"/>
<path d="M691,580 695,581.5 693,584Z" fill="#00A884" stroke="#a4acac" stroke-width="0.7"/>
<path d="M274.5,767 277.5,765.5 279,768.5 276,770.5Z" fill="#00E6A9" stroke="#a4acac" stroke-width="0.7"/>
<path d="M279.5,775 283,773.5 284.5,777 281,779Z" fill="#00E6A9" stroke="#a4acac" stroke-width="0.7"/>
<path d="M270,778 273.5,776.5 275,780 271.5,782Z" fill="#00E6A9" stroke="#a4acac" stroke-width="0.7"/>
<path d="M731.9,326.6 738.8,331.4 746.2,336.7 750.4,345.1 752.6,355.7 751.5,362.1 747.8,365.3 747.3,370.6 749.4,373.8 752.6,378 753.6,385.4 754.7,388.6 752,386 750.5,379 747.3,374 743,373.8 735.6,377 733,374.8 736.7,371.7 738.8,364.2 737.7,357.9 736.7,349.4 734.5,343 729.2,337.7 723.9,335.6 728.2,334.5Z" fill="#BEE8FF" stroke="#a4acac" stroke-width="0.5"/>
<path d="M456.9,182.5 458.8,190 461.3,195 460.3,205 457.5,211.3 458.8,204 459.6,196 457.3,190Z" fill="#BEE8FF" stroke="#a4acac" stroke-width="0.5"/>
<path d="M202.5,603.8 204,612 203,622 204.5,632 203.8,641 202,632 200.5,622 201,612Z" fill="#BEE8FF" stroke="#a4acac" stroke-width="0.5"/>
<path d="M77,953 87,947 95,943 96,944.5 88,949 78.5,954.5Z" fill="#BEE8FF" stroke="#a4acac" stroke-width="0.5"/>
<path d="M618.8,292.5 625,290 627.5,300 640,300 652.5,295 657.5,300 650,317.5 652.5,327.5 645,342.5 640,350 633.8,351.3 630,345 615,346.3 607.5,337.5 615,327.5 620,315 617.5,302.5Z" fill="#CFE6F7" stroke="#a4acac" stroke-width="0.7"/>
<path d="M622.5,276.3 625,275 625.5,285 623.5,290 622,285Z" fill="#CFE6F7" stroke="#a4acac" stroke-width="0.7"/>
<path d="M417,356.5 422.3,352.8 431.8,349.1 440.3,343.8 446.6,342.7 453,344.8 454.1,349.1 456.2,353.3 456.2,358.6 460.4,365 463.6,371.3 466.8,377.7 466.8,384.1 468.9,390.4 472.1,395.7 478.4,400 483.7,406.3 484.8,411.6 490.1,414.8 492.2,421.2 493.3,427.5 490.1,431.8 488.5,429.6 490.1,424.3 486.9,421.2 483.7,415.9 479.5,412.7 474.2,410.6 471,406.3 473.1,402.1 470,397.8 467.8,392.5 465.7,385.1 464.7,379.8 461.5,372.4 457.2,366 451.9,361.8 446.6,358.6 442.4,355.4 435,354.4 427.6,355.4 421.2,357Z" fill="#CFE6F7" stroke="#a4acac" stroke-width="0.7"/>
<path d="M713,263 717,266 722,274 724,281 721,279 717,271Z" fill="#CFE6F7" stroke="#a4acac" stroke-width="0.7"/>
<path d="M310.9,306.3 319.4,296 327.8,289.4 338.1,286.6 349.4,289.4 345.6,278.1 343.8,275 350,272.5 357.5,270 366.3,267.5 367.5,262.5 376.3,261.3 371.3,257.5 365,260 358.8,255 357.5,250 368.8,247.5 362.5,245 356.3,240 355,236.3 362.5,232.5 357.5,226.3 358.8,221.3 366.3,225 372.5,220 377.5,213.8 378.8,202.5 382.5,198.8 396.3,200 398.8,205 401.9,202.5 401.3,197.5 407.5,196.3 415,193.8 416.3,186.3 421.3,182.5 426.3,186.3 422.5,190 428.8,191.3 435,195 435.5,200 438,200.5 439.8,194.5 437.5,190 436.3,183.8 441.3,180 447.5,176.3 445,182.5 446.3,188.8 451.3,177.5 457.5,175 465,170 468.1,171.3 470,180 471.3,188.8 475,192.5 480,198.8 483.8,205 485,211.3 480,213.8 473.8,217.5 472.5,222.5 466.3,225 473.8,225.5 478.8,227.5 471.3,235 466.3,240 467.5,245 473.8,236.3 480,228.8 487.5,223.8 491.3,218.8 488.8,212.5 490,207.5 485,198.8 481.3,192.5 478.8,187.5 480,180 481.3,171.3 485,166.3 492.5,167.5 501.3,163.8 505,161.3 510,163.8 516.3,168.8 509,163 503.8,155 498.8,147.5 502.5,145.6 511.3,148.8 521.3,152.5 526.5,155.5 531.3,163.8 537.5,166.9 543.8,170.6 550,172.5 556.3,174.4 561.3,178.8 560,183.1 556.3,186.3 550,188.8 543.8,191.9 537.5,196.3 531.3,200.6 526.3,206.3 522.5,212.5 518.8,219.4 518.1,223.1 520,223.1 521.3,221.3 525,220 530,220.6 532.5,223.1 537.5,223.8 543.8,222.5 547.5,220 550.6,216.3 549.4,211.9 552.5,209.4 553.8,205 555.6,198.8 556.9,192.5 556.6,188.1 560,191.3 565.6,193.8 575,194.4 586.3,193.8 588.8,190 593.8,186.9 597.5,184.4 612.5,180 620,175 632.5,176.3 645,180 655,183.8 665,178.8 675,185 680,195 678.8,212.5 687.5,218.8 690,232.5 700,242.5 707.5,255 715,262.5 725,270 728.8,280 725,290 719.7,294.2 711.2,299.5 704.8,307 700.1,312.3 707,315.4 714.4,310.1 721.8,305.9 729.2,307 734.5,305.9 738.3,304.3 745.1,304.8 750.4,311.2 752.6,319.7 757.9,328.2 761,337.7 765.3,347.3 764.2,355.7 761,362.1 763.2,370.6 760,377 757.9,383.3 754.7,388.6 750.4,395 745.1,400.3 740.9,402.4 737.7,406.6 725,404.5 716.5,406.6 712,404 714.4,397.5 711,402 710.1,406.6 706.3,413 707.2,422.5 706.3,433.8 704.1,439.6 698.8,444.4 693.5,449.1 688.2,453.9 683.5,457.6 678.7,453.9 681.6,451.8 678.7,449.1 675,448.6 668.1,446.5 666,442.8 661.8,440.4 656.5,441.2 659.7,446.5 667,451.8 674.5,456.6 677.7,463.5 673.4,467.7 667,467.7 659.6,465 653.8,461.8 647.5,460.2 643.2,462.4 645.3,466 642.7,470.8 641.6,478.2 642.5,480.6 648,490 659.4,496.6 659.4,506.9 663,512.5 659.4,523.8 663,538.8 665,548 676.3,559.4 682.8,563 684.7,570.6 678,578 681.9,582.8 676.3,587.5 680,595 687.5,604.5 690,608.8 683.8,610.6 674.4,610.6 668.8,618 676.3,625.6 681.9,633 682.8,648 689.4,659.4 693,672.5 693,687.5 698.8,702.5 695,713.8 691.3,728.8 683.8,740 680,749.4 679,755 675.6,762 671,778.8 673,793 672.8,800 669,808.4 662.5,818.8 656,831 652.2,837.5 651.3,844 652.2,847.8 647.5,846.9 640,847.8 638.1,840.8 631.6,847.3 637.2,848.2 640,854.4 643.8,858.1 648.4,865.6 653.1,870.3 658.8,872.7 656.9,877.8 653.1,887.2 648.4,885.8 640,884.8 629.7,885.8 620.3,888.6 615.6,883.4 610,879.7 602.5,879.7 595,881.6 592.2,877.8 595.9,871.3 596.9,868.4 594,869.4 590.3,875.9 585.6,880.6 586.6,884.4 581.9,890 577.2,893.8 573,900.8 572,899.4 575.3,892.8 574.4,884.4 570.6,877.8 565.9,872.2 564,867.5 565.5,874 565,879.7 566,886.3 563.1,893.8 559.4,896.6 548,899.7 550,893 542.5,893 538.8,896.9 529.4,898.8 512.5,900.6 501.3,904.4 490,908 482.5,911.9 475,911.9 471.3,915.6 482.5,919.4 480.6,926.9 475,932.5 465.6,936.3 458,940 456.3,943.8 448.8,942.8 442.5,944 441.3,945 436.3,950 433.8,955 440,957.5 433.8,960 425,962.5 417.5,967.5 417.5,971.3 410,973.8 400,976.3 395,980 387.5,978.8 382.8,978.5 383.5,973 386,967 392,964.5 385.5,965.8 382,970 380.5,975 377,972 380,978 376.3,983.8 375,990 370,995 362.5,998.8 357.5,1002.5 350,1005 345,1005 342.5,1010 340,1015 341.3,1021.3 336.3,1013.8 327.5,1015 322.5,1012.5 317.5,1015 319.4,1021.3 316.3,1028.8 310,1029.4 302.5,1026.3 295,1025 291.3,1027.5 287.5,1035 281.3,1038.8 275,1033.8 271.3,1032.5 263.8,1033.1 256.3,1036.3 250,1040 246.3,1043.8 236.9,1047.5 227.5,1049.4 220,1051.3 210.6,1055 214.4,1043.8 216.3,1034.4 208.8,1032.5 205,1041.9 195.6,1040 186.3,1045.6 178.8,1041.9 171.3,1049.4 163.8,1053 155.3,1055 153.4,1049.4 160,1044.7 171.3,1040 180.6,1032.5 190,1025 197.5,1018.4 186.3,1022 175,1026.9 161.9,1032.5 151.6,1034.4 160,1028.8 171.3,1021.3 182.5,1013.8 193.8,1008 201.3,1002.5 208.8,1000.6 209.7,995 199.4,993 195.6,987.5 193.8,993 186.3,996.9 178.8,1000.6 169.4,1002.5 158,1006.3 145,1008 141.3,1011.9 133.8,1016.6 124.4,1019.4 115,1020.3 105.6,1022 95.3,1023 101.9,1018.4 109.4,1015.6 118.8,1011.9 115,1004.4 122.5,1002.5 128,995 137.5,991.3 146.9,985.6 152.5,985.6 154.4,980 161.9,974.4 171.3,968.8 182.5,963 190,958.4 180.6,960.3 167.5,963 152.5,967.8 145,970.6 133.8,974.4 122.5,980 113,983.8 103.8,978 105.6,972.5 103.8,965 94.4,963 88.8,970.6 81.3,974.4 80.3,961.3 73.8,955.6 70,951.9 75.6,945.3 85,938.8 92.5,932.2 101.9,925.6 115,920 122.5,918 133.8,915.3 141.3,912.5 145,905 152.5,901.3 161.9,896.6 161.9,891.9 152.5,891 137.5,892.8 126.3,893.8 115,897.5 101.9,899.4 88.8,895.6 81.3,897.5 70,902.2 64.4,899.4 67.2,891.9 68,883.4 74.7,878.8 80.3,878.8 85,871.3 94.4,867.5 105.6,860 111.3,861.9 109.4,867.5 113,871.3 122.5,869.4 128,863.8 130,856.3 131.9,863.8 137.5,871.3 146.9,874 160,871.3 169.4,868.4 160,863.8 152.5,860 157.2,854.4 158,845 156.3,837.5 145,833.8 144,830 150.6,829 160,826.3 171.3,820.6 178.8,816.9 180.6,809.4 182.5,800 188,795.3 195.6,794.4 205,798 212.5,796.3 220,794.4 227.5,796.3 240,794.4 255,788.8 266.3,786.9 279.4,786 281.3,780.3 288,773 285.6,764.4 283.8,756.9 285,750 283.8,747.5 274.4,756.9 270.6,762.5 266.9,773.8 261.3,781.3 255.6,786.3 246.3,789.2 238.8,792 231.3,790.6 238.8,785 236.9,782 229.4,786 218,787.8 208.8,785 203,781.3 201.3,775.6 197.5,779.4 188,783 178.8,788.8 171.3,792.5 160,794.4 152.5,798 146,797.2 154.4,791.6 167.5,783 178.8,773.8 188,762.5 193.8,756 203,757.8 208.8,749.4 211.9,744.4 215.6,736.9 219.4,727.5 224,721 226.5,717 227.5,712.5 220,711.9 212.5,711.3 217.5,706.3 221.3,698.8 225,692.5 230,683.8 235,676.3 240,667.5 242.5,662.5 247.5,665 253.8,667.5 257.5,670 262.5,666.3 265,661.3 270,660 271.9,661.9 275.6,664.7 288.8,663.8 275.6,660 285,656.3 294.4,647.8 283,650.6 273.8,647.8 281.3,645 286.9,635.6 277.5,636.6 270,639.4 256.9,640.3 238,641.3 219.4,644 206.3,645 203.8,642.5 200,638.8 195,642.5 190,641.3 185,643.8 180,642.5 176,637 172.5,642.5 173,634 178,631 183,628 187.5,621.3 192.5,612.5 190,606.9 186.3,612.5 180,621.3 175,627.5 167.5,625 160,622.5 155,618.8 157.5,611.3 165,608.8 170,602.5 161.3,595.6 153.8,600 152.5,607.5 145,608.8 137.5,605 132.5,598.5 120,600 109.7,601.9 116.3,596.3 121.9,590.6 129.4,588.8 136.9,585 131.3,577.5 121.9,575.6 116.3,570 120,566.3 131.3,562.5 142.5,564.4 136.9,560.6 135,555 142.5,553 153.8,552.3 163,555.5 172,558 164,553.5 156,550 157.5,543.8 154.7,532.5 156.3,521 162.5,517.5 175,515 187.5,515.6 197.5,515 206.3,510.6 197.5,505 203.8,500 205,491.3 197.5,490 187.5,488.8 175,487.5 172.5,483.8 168.8,491.3 160,495 155,492.5 155.5,482 156.8,474 156.3,466 157.5,458.8 160,452.5 165,442.5 171.3,433.8 162.5,438.8 160,446.3 152.5,448.8 147.5,442.5 151.3,437.5 160,435 156.3,430 153.8,421.3 160,411.3 152.5,413.8 148,413 144.8,419 142.6,430 139,438 135,441.3 129.6,438 130.4,428 133.5,420 137.5,411.3 133.8,406.3 137.5,401.3 147.5,392.5 152.5,398.8 150,403.8 155,407.5 162.5,405 165,398.8 171.3,397.5 176,399 180,402.5 185,406.3 180.5,400 175,393.8 167.5,392.5 166.3,387.5 175,384.4 185,387.5 195,390 207.5,391.3 218.8,392.5 230,396.3 236.3,390 243.8,392.5 250,400 255,408.8 247.5,412.5 253.8,413.8 262.5,420 265.3,420 268,414.4 275.6,399.4 285,398.4 300,403 309.4,406.9 316.9,403 325,403.8 331.3,406.3 336.3,413.8 340,417.5 347.5,415 341.3,415 333.8,410 336.3,405 340,401.3 350,402.5 351.3,400 342.5,398.8 351.3,396.3 350,391.3 342.5,393.8 341.3,387.5 330,390 327.5,383 335,378.8 342.5,373 350,368.8 355,363.8 356.9,358 362.5,367.5 368,359.4 377.5,356.3 381.3,352.5 385,350 383,346.3 386.3,342.5 390,337.5 392.5,332.5 396.3,328.8 400,325 398.8,318.8 392.5,320 385,323.8 380,325 378.8,318.8 372.5,322.5 365,330 357.5,333.8 365,327.5 362.5,322.5 360,318.8 355,325 353.8,320.6 347.5,321.3 340,323.8 332.5,321.3 325,318 318.8,315 312.5,312.5 310.6,305.6Z" fill="none" stroke="#a4acac" stroke-width="0.8" stroke-linejoin="round"/>
</g>
</g>
<rect x="44.3" y="60.6" width="724.3" height="1049.6" fill="none" stroke="#55626c" stroke-width="1.3"/>
<clipPath id="Rpanel"><rect x="826.8" y="60.6" width="724.3" height="1049.6"/></clipPath>
<rect x="826.8" y="60.6" width="724.3" height="1049.6" fill="#BEE8FF"/>
<g clip-path="url(#Rpanel)">
<g transform="translate(780.7,0)">
<clipPath id="Rclip"><path d="M310.9,306.3 319.4,296 327.8,289.4 338.1,286.6 349.4,289.4 345.6,278.1 343.8,275 350,272.5 357.5,270 366.3,267.5 367.5,262.5 376.3,261.3 371.3,257.5 365,260 358.8,255 357.5,250 368.8,247.5 362.5,245 356.3,240 355,236.3 362.5,232.5 357.5,226.3 358.8,221.3 366.3,225 372.5,220 377.5,213.8 378.8,202.5 382.5,198.8 396.3,200 398.8,205 401.9,202.5 401.3,197.5 407.5,196.3 415,193.8 416.3,186.3 421.3,182.5 426.3,186.3 422.5,190 428.8,191.3 435,195 435.5,200 438,200.5 439.8,194.5 437.5,190 436.3,183.8 441.3,180 447.5,176.3 445,182.5 446.3,188.8 451.3,177.5 457.5,175 465,170 468.1,171.3 470,180 471.3,188.8 475,192.5 480,198.8 483.8,205 485,211.3 480,213.8 473.8,217.5 472.5,222.5 466.3,225 473.8,225.5 478.8,227.5 471.3,235 466.3,240 467.5,245 473.8,236.3 480,228.8 487.5,223.8 491.3,218.8 488.8,212.5 490,207.5 485,198.8 481.3,192.5 478.8,187.5 480,180 481.3,171.3 485,166.3 492.5,167.5 501.3,163.8 505,161.3 510,163.8 516.3,168.8 509,163 503.8,155 498.8,147.5 502.5,145.6 511.3,148.8 521.3,152.5 526.5,155.5 531.3,163.8 537.5,166.9 543.8,170.6 550,172.5 556.3,174.4 561.3,178.8 560,183.1 556.3,186.3 550,188.8 543.8,191.9 537.5,196.3 531.3,200.6 526.3,206.3 522.5,212.5 518.8,219.4 518.1,223.1 520,223.1 521.3,221.3 525,220 530,220.6 532.5,223.1 537.5,223.8 543.8,222.5 547.5,220 550.6,216.3 549.4,211.9 552.5,209.4 553.8,205 555.6,198.8 556.9,192.5 556.6,188.1 560,191.3 565.6,193.8 575,194.4 586.3,193.8 588.8,190 593.8,186.9 597.5,184.4 612.5,180 620,175 632.5,176.3 645,180 655,183.8 665,178.8 675,185 680,195 678.8,212.5 687.5,218.8 690,232.5 700,242.5 707.5,255 715,262.5 725,270 728.8,280 725,290 719.7,294.2 711.2,299.5 704.8,307 700.1,312.3 707,315.4 714.4,310.1 721.8,305.9 729.2,307 734.5,305.9 738.3,304.3 745.1,304.8 750.4,311.2 752.6,319.7 757.9,328.2 761,337.7 765.3,347.3 764.2,355.7 761,362.1 763.2,370.6 760,377 757.9,383.3 754.7,388.6 750.4,395 745.1,400.3 740.9,402.4 737.7,406.6 725,404.5 716.5,406.6 712,404 714.4,397.5 711,402 710.1,406.6 706.3,413 707.2,422.5 706.3,433.8 704.1,439.6 698.8,444.4 693.5,449.1 688.2,453.9 683.5,457.6 678.7,453.9 681.6,451.8 678.7,449.1 675,448.6 668.1,446.5 666,442.8 661.8,440.4 656.5,441.2 659.7,446.5 667,451.8 674.5,456.6 677.7,463.5 673.4,467.7 667,467.7 659.6,465 653.8,461.8 647.5,460.2 643.2,462.4 645.3,466 642.7,470.8 641.6,478.2 642.5,480.6 648,490 659.4,496.6 659.4,506.9 663,512.5 659.4,523.8 663,538.8 665,548 676.3,559.4 682.8,563 684.7,570.6 678,578 681.9,582.8 676.3,587.5 680,595 687.5,604.5 690,608.8 683.8,610.6 674.4,610.6 668.8,618 676.3,625.6 681.9,633 682.8,648 689.4,659.4 693,672.5 693,687.5 698.8,702.5 695,713.8 691.3,728.8 683.8,740 680,749.4 679,755 675.6,762 671,778.8 673,793 672.8,800 669,808.4 662.5,818.8 656,831 652.2,837.5 651.3,844 652.2,847.8 647.5,846.9 640,847.8 638.1,840.8 631.6,847.3 637.2,848.2 640,854.4 643.8,858.1 648.4,865.6 653.1,870.3 658.8,872.7 656.9,877.8 653.1,887.2 648.4,885.8 640,884.8 629.7,885.8 620.3,888.6 615.6,883.4 610,879.7 602.5,879.7 595,881.6 592.2,877.8 595.9,871.3 596.9,868.4 594,869.4 590.3,875.9 585.6,880.6 586.6,884.4 581.9,890 577.2,893.8 573,900.8 572,899.4 575.3,892.8 574.4,884.4 570.6,877.8 565.9,872.2 564,867.5 565.5,874 565,879.7 566,886.3 563.1,893.8 559.4,896.6 548,899.7 550,893 542.5,893 538.8,896.9 529.4,898.8 512.5,900.6 501.3,904.4 490,908 482.5,911.9 475,911.9 471.3,915.6 482.5,919.4 480.6,926.9 475,932.5 465.6,936.3 458,940 456.3,943.8 448.8,942.8 442.5,944 441.3,945 436.3,950 433.8,955 440,957.5 433.8,960 425,962.5 417.5,967.5 417.5,971.3 410,973.8 400,976.3 395,980 387.5,978.8 382.8,978.5 383.5,973 386,967 392,964.5 385.5,965.8 382,970 380.5,975 377,972 380,978 376.3,983.8 375,990 370,995 362.5,998.8 357.5,1002.5 350,1005 345,1005 342.5,1010 340,1015 341.3,1021.3 336.3,1013.8 327.5,1015 322.5,1012.5 317.5,1015 319.4,1021.3 316.3,1028.8 310,1029.4 302.5,1026.3 295,1025 291.3,1027.5 287.5,1035 281.3,1038.8 275,1033.8 271.3,1032.5 263.8,1033.1 256.3,1036.3 250,1040 246.3,1043.8 236.9,1047.5 227.5,1049.4 220,1051.3 210.6,1055 214.4,1043.8 216.3,1034.4 208.8,1032.5 205,1041.9 195.6,1040 186.3,1045.6 178.8,1041.9 171.3,1049.4 163.8,1053 155.3,1055 153.4,1049.4 160,1044.7 171.3,1040 180.6,1032.5 190,1025 197.5,1018.4 186.3,1022 175,1026.9 161.9,1032.5 151.6,1034.4 160,1028.8 171.3,1021.3 182.5,1013.8 193.8,1008 201.3,1002.5 208.8,1000.6 209.7,995 199.4,993 195.6,987.5 193.8,993 186.3,996.9 178.8,1000.6 169.4,1002.5 158,1006.3 145,1008 141.3,1011.9 133.8,1016.6 124.4,1019.4 115,1020.3 105.6,1022 95.3,1023 101.9,1018.4 109.4,1015.6 118.8,1011.9 115,1004.4 122.5,1002.5 128,995 137.5,991.3 146.9,985.6 152.5,985.6 154.4,980 161.9,974.4 171.3,968.8 182.5,963 190,958.4 180.6,960.3 167.5,963 152.5,967.8 145,970.6 133.8,974.4 122.5,980 113,983.8 103.8,978 105.6,972.5 103.8,965 94.4,963 88.8,970.6 81.3,974.4 80.3,961.3 73.8,955.6 70,951.9 75.6,945.3 85,938.8 92.5,932.2 101.9,925.6 115,920 122.5,918 133.8,915.3 141.3,912.5 145,905 152.5,901.3 161.9,896.6 161.9,891.9 152.5,891 137.5,892.8 126.3,893.8 115,897.5 101.9,899.4 88.8,895.6 81.3,897.5 70,902.2 64.4,899.4 67.2,891.9 68,883.4 74.7,878.8 80.3,878.8 85,871.3 94.4,867.5 105.6,860 111.3,861.9 109.4,867.5 113,871.3 122.5,869.4 128,863.8 130,856.3 131.9,863.8 137.5,871.3 146.9,874 160,871.3 169.4,868.4 160,863.8 152.5,860 157.2,854.4 158,845 156.3,837.5 145,833.8 144,830 150.6,829 160,826.3 171.3,820.6 178.8,816.9 180.6,809.4 182.5,800 188,795.3 195.6,794.4 205,798 212.5,796.3 220,794.4 227.5,796.3 240,794.4 255,788.8 266.3,786.9 279.4,786 281.3,780.3 288,773 285.6,764.4 283.8,756.9 285,750 283.8,747.5 274.4,756.9 270.6,762.5 266.9,773.8 261.3,781.3 255.6,786.3 246.3,789.2 238.8,792 231.3,790.6 238.8,785 236.9,782 229.4,786 218,787.8 208.8,785 203,781.3 201.3,775.6 197.5,779.4 188,783 178.8,788.8 171.3,792.5 160,794.4 152.5,798 146,797.2 154.4,791.6 167.5,783 178.8,773.8 188,762.5 193.8,756 203,757.8 208.8,749.4 211.9,744.4 215.6,736.9 219.4,727.5 224,721 226.5,717 227.5,712.5 220,711.9 212.5,711.3 217.5,706.3 221.3,698.8 225,692.5 230,683.8 235,676.3 240,667.5 242.5,662.5 247.5,665 253.8,667.5 257.5,670 262.5,666.3 265,661.3 270,660 271.9,661.9 275.6,664.7 288.8,663.8 275.6,660 285,656.3 294.4,647.8 283,650.6 273.8,647.8 281.3,645 286.9,635.6 277.5,636.6 270,639.4 256.9,640.3 238,641.3 219.4,644 206.3,645 203.8,642.5 200,638.8 195,642.5 190,641.3 185,643.8 180,642.5 176,637 172.5,642.5 173,634 178,631 183,628 187.5,621.3 192.5,612.5 190,606.9 186.3,612.5 180,621.3 175,627.5 167.5,625 160,622.5 155,618.8 157.5,611.3 165,608.8 170,602.5 161.3,595.6 153.8,600 152.5,607.5 145,608.8 137.5,605 132.5,598.5 120,600 109.7,601.9 116.3,596.3 121.9,590.6 129.4,588.8 136.9,585 131.3,577.5 121.9,575.6 116.3,570 120,566.3 131.3,562.5 142.5,564.4 136.9,560.6 135,555 142.5,553 153.8,552.3 163,555.5 172,558 164,553.5 156,550 157.5,543.8 154.7,532.5 156.3,521 162.5,517.5 175,515 187.5,515.6 197.5,515 206.3,510.6 197.5,505 203.8,500 205,491.3 197.5,490 187.5,488.8 175,487.5 172.5,483.8 168.8,491.3 160,495 155,492.5 155.5,482 156.8,474 156.3,466 157.5,458.8 160,452.5 165,442.5 171.3,433.8 162.5,438.8 160,446.3 152.5,448.8 147.5,442.5 151.3,437.5 160,435 156.3,430 153.8,421.3 160,411.3 152.5,413.8 148,413 144.8,419 142.6,430 139,438 135,441.3 129.6,438 130.4,428 133.5,420 137.5,411.3 133.8,406.3 137.5,401.3 147.5,392.5 152.5,398.8 150,403.8 155,407.5 162.5,405 165,398.8 171.3,397.5 176,399 180,402.5 185,406.3 180.5,400 175,393.8 167.5,392.5 166.3,387.5 175,384.4 185,387.5 195,390 207.5,391.3 218.8,392.5 230,396.3 236.3,390 243.8,392.5 250,400 255,408.8 247.5,412.5 253.8,413.8 262.5,420 265.3,420 268,414.4 275.6,399.4 285,398.4 300,403 309.4,406.9 316.9,403 325,403.8 331.3,406.3 336.3,413.8 340,417.5 347.5,415 341.3,415 333.8,410 336.3,405 340,401.3 350,402.5 351.3,400 342.5,398.8 351.3,396.3 350,391.3 342.5,393.8 341.3,387.5 330,390 327.5,383 335,378.8 342.5,373 350,368.8 355,363.8 356.9,358 362.5,367.5 368,359.4 377.5,356.3 381.3,352.5 385,350 383,346.3 386.3,342.5 390,337.5 392.5,332.5 396.3,328.8 400,325 398.8,318.8 392.5,320 385,323.8 380,325 378.8,318.8 372.5,322.5 365,330 357.5,333.8 365,327.5 362.5,322.5 360,318.8 355,325 353.8,320.6 347.5,321.3 340,323.8 332.5,321.3 325,318 318.8,315 312.5,312.5 310.6,305.6ZM343.8,231.3 350.3,232.2 353.1,238.8 347.5,242.1 342.3,238.8ZM385,170.5 392,173.5 394,175.5 388,174ZM110,467.5 120,460 131.3,461.3 141.3,457.5 148.8,457.5 152.5,465 151.3,475 154,480 153.3,488.8 151.3,495 146.3,488.8 138.8,481.3 136.3,473.8 128.8,470 118.8,468.8ZM137.5,510 145,503.8 151.3,506.3 147.5,510 140,512.5ZM124.7,531.6 131.3,529.7 132.2,532.5 125.6,534.4ZM101.3,553 108.8,548.4 118,548.4 121.9,553 112.5,555 105,556ZM159.4,661.9 166.9,660 176.3,663.8 185.6,667.5 191.3,671.3 189.4,674 180,671.3 168.8,665.6ZM192.8,676.5 195.5,673.2 199.3,674.5 199.8,679 197,682 193.5,681ZM201.6,684 204.5,681.3 208.3,682 208,685.3 204,686.6ZM50.3,906.9 55,902 59.7,899.4 56,904.5ZM143.1,1011.9 152.5,1010 160,1011.9 152.5,1015.6 143.1,1015.6ZM197.5,1062.5 205,1056.9 206.9,1059.7 199.4,1063.4ZM646.3,162.5 650,160 660,161.3 661.3,170 657.5,167.5 656.5,163.8 652.5,164ZM691,580 695,581.5 693,584ZM274.5,767 277.5,765.5 279,768.5 276,770.5ZM279.5,775 283,773.5 284.5,777 281,779ZM270,778 273.5,776.5 275,780 271.5,782Z"/></clipPath>
<g clip-path="url(#Rclip)" stroke="#a4acac" stroke-width="0.7" stroke-linejoin="round">
<path d="M310.9,306.3 319.4,296 327.8,289.4 338.1,286.6 349.4,289.4 345.6,278.1 343.8,275 350,272.5 357.5,270 366.3,267.5 367.5,262.5 376.3,261.3 371.3,257.5 365,260 358.8,255 357.5,250 368.8,247.5 362.5,245 356.3,240 355,236.3 362.5,232.5 357.5,226.3 358.8,221.3 366.3,225 372.5,220 377.5,213.8 378.8,202.5 382.5,198.8 396.3,200 398.8,205 401.9,202.5 401.3,197.5 407.5,196.3 415,193.8 416.3,186.3 421.3,182.5 426.3,186.3 422.5,190 428.8,191.3 435,195 435.5,200 438,200.5 439.8,194.5 437.5,190 436.3,183.8 441.3,180 447.5,176.3 445,182.5 446.3,188.8 451.3,177.5 457.5,175 465,170 468.1,171.3 470,180 471.3,188.8 475,192.5 480,198.8 483.8,205 485,211.3 480,213.8 473.8,217.5 472.5,222.5 466.3,225 473.8,225.5 478.8,227.5 471.3,235 466.3,240 467.5,245 473.8,236.3 480,228.8 487.5,223.8 491.3,218.8 488.8,212.5 490,207.5 485,198.8 481.3,192.5 478.8,187.5 480,180 481.3,171.3 485,166.3 492.5,167.5 501.3,163.8 505,161.3 510,163.8 516.3,168.8 509,163 503.8,155 498.8,147.5 502.5,145.6 511.3,148.8 521.3,152.5 526.5,155.5 531.3,163.8 537.5,166.9 543.8,170.6 550,172.5 556.3,174.4 561.3,178.8 560,183.1 556.3,186.3 550,188.8 543.8,191.9 537.5,196.3 531.3,200.6 526.3,206.3 522.5,212.5 518.8,219.4 518.1,223.1 520,223.1 521.3,221.3 525,220 530,220.6 532.5,223.1 537.5,223.8 543.8,222.5 547.5,220 550.6,216.3 549.4,211.9 552.5,209.4 553.8,205 555.6,198.8 556.9,192.5 556.6,188.1 560,191.3 565.6,193.8 575,194.4 586.3,193.8 588.8,190 593.8,186.9 597.5,184.4 612.5,180 620,175 632.5,176.3 645,180 655,183.8 665,178.8 675,185 680,195 678.8,212.5 687.5,218.8 690,232.5 700,242.5 707.5,255 715,262.5 725,270 728.8,280 725,290 719.7,294.2 711.2,299.5 704.8,307 700.1,312.3 707,315.4 714.4,310.1 721.8,305.9 729.2,307 734.5,305.9 738.3,304.3 745.1,304.8 750.4,311.2 752.6,319.7 757.9,328.2 761,337.7 765.3,347.3 764.2,355.7 761,362.1 763.2,370.6 760,377 757.9,383.3 754.7,388.6 750.4,395 745.1,400.3 740.9,402.4 737.7,406.6 725,404.5 716.5,406.6 712,404 714.4,397.5 711,402 710.1,406.6 706.3,413 707.2,422.5 706.3,433.8 704.1,439.6 698.8,444.4 693.5,449.1 688.2,453.9 683.5,457.6 678.7,453.9 681.6,451.8 678.7,449.1 675,448.6 668.1,446.5 666,442.8 661.8,440.4 656.5,441.2 659.7,446.5 667,451.8 674.5,456.6 677.7,463.5 673.4,467.7 667,467.7 659.6,465 653.8,461.8 647.5,460.2 643.2,462.4 645.3,466 642.7,470.8 641.6,478.2 642.5,480.6 648,490 659.4,496.6 659.4,506.9 663,512.5 659.4,523.8 663,538.8 665,548 676.3,559.4 682.8,563 684.7,570.6 678,578 681.9,582.8 676.3,587.5 680,595 687.5,604.5 690,608.8 683.8,610.6 674.4,610.6 668.8,618 676.3,625.6 681.9,633 682.8,648 689.4,659.4 693,672.5 693,687.5 698.8,702.5 695,713.8 691.3,728.8 683.8,740 680,749.4 679,755 675.6,762 671,778.8 673,793 672.8,800 669,808.4 662.5,818.8 656,831 652.2,837.5 651.3,844 652.2,847.8 647.5,846.9 640,847.8 638.1,840.8 631.6,847.3 637.2,848.2 640,854.4 643.8,858.1 648.4,865.6 653.1,870.3 658.8,872.7 656.9,877.8 653.1,887.2 648.4,885.8 640,884.8 629.7,885.8 620.3,888.6 615.6,883.4 610,879.7 602.5,879.7 595,881.6 592.2,877.8 595.9,871.3 596.9,868.4 594,869.4 590.3,875.9 585.6,880.6 586.6,884.4 581.9,890 577.2,893.8 573,900.8 572,899.4 575.3,892.8 574.4,884.4 570.6,877.8 565.9,872.2 564,867.5 565.5,874 565,879.7 566,886.3 563.1,893.8 559.4,896.6 548,899.7 550,893 542.5,893 538.8,896.9 529.4,898.8 512.5,900.6 501.3,904.4 490,908 482.5,911.9 475,911.9 471.3,915.6 482.5,919.4 480.6,926.9 475,932.5 465.6,936.3 458,940 456.3,943.8 448.8,942.8 442.5,944 441.3,945 436.3,950 433.8,955 440,957.5 433.8,960 425,962.5 417.5,967.5 417.5,971.3 410,973.8 400,976.3 395,980 387.5,978.8 382.8,978.5 383.5,973 386,967 392,964.5 385.5,965.8 382,970 380.5,975 377,972 380,978 376.3,983.8 375,990 370,995 362.5,998.8 357.5,1002.5 350,1005 345,1005 342.5,1010 340,1015 341.3,1021.3 336.3,1013.8 327.5,1015 322.5,1012.5 317.5,1015 319.4,1021.3 316.3,1028.8 310,1029.4 302.5,1026.3 295,1025 291.3,1027.5 287.5,1035 281.3,1038.8 275,1033.8 271.3,1032.5 263.8,1033.1 256.3,1036.3 250,1040 246.3,1043.8 236.9,1047.5 227.5,1049.4 220,1051.3 210.6,1055 214.4,1043.8 216.3,1034.4 208.8,1032.5 205,1041.9 195.6,1040 186.3,1045.6 178.8,1041.9 171.3,1049.4 163.8,1053 155.3,1055 153.4,1049.4 160,1044.7 171.3,1040 180.6,1032.5 190,1025 197.5,1018.4 186.3,1022 175,1026.9 161.9,1032.5 151.6,1034.4 160,1028.8 171.3,1021.3 182.5,1013.8 193.8,1008 201.3,1002.5 208.8,1000.6 209.7,995 199.4,993 195.6,987.5 193.8,993 186.3,996.9 178.8,1000.6 169.4,1002.5 158,1006.3 145,1008 141.3,1011.9 133.8,1016.6 124.4,1019.4 115,1020.3 105.6,1022 95.3,1023 101.9,1018.4 109.4,1015.6 118.8,1011.9 115,1004.4 122.5,1002.5 128,995 137.5,991.3 146.9,985.6 152.5,985.6 154.4,980 161.9,974.4 171.3,968.8 182.5,963 190,958.4 180.6,960.3 167.5,963 152.5,967.8 145,970.6 133.8,974.4 122.5,980 113,983.8 103.8,978 105.6,972.5 103.8,965 94.4,963 88.8,970.6 81.3,974.4 80.3,961.3 73.8,955.6 70,951.9 75.6,945.3 85,938.8 92.5,932.2 101.9,925.6 115,920 122.5,918 133.8,915.3 141.3,912.5 145,905 152.5,901.3 161.9,896.6 161.9,891.9 152.5,891 137.5,892.8 126.3,893.8 115,897.5 101.9,899.4 88.8,895.6 81.3,897.5 70,902.2 64.4,899.4 67.2,891.9 68,883.4 74.7,878.8 80.3,878.8 85,871.3 94.4,867.5 105.6,860 111.3,861.9 109.4,867.5 113,871.3 122.5,869.4 128,863.8 130,856.3 131.9,863.8 137.5,871.3 146.9,874 160,871.3 169.4,868.4 160,863.8 152.5,860 157.2,854.4 158,845 156.3,837.5 145,833.8 144,830 150.6,829 160,826.3 171.3,820.6 178.8,816.9 180.6,809.4 182.5,800 188,795.3 195.6,794.4 205,798 212.5,796.3 220,794.4 227.5,796.3 240,794.4 255,788.8 266.3,786.9 279.4,786 281.3,780.3 288,773 285.6,764.4 283.8,756.9 285,750 283.8,747.5 274.4,756.9 270.6,762.5 266.9,773.8 261.3,781.3 255.6,786.3 246.3,789.2 238.8,792 231.3,790.6 238.8,785 236.9,782 229.4,786 218,787.8 208.8,785 203,781.3 201.3,775.6 197.5,779.4 188,783 178.8,788.8 171.3,792.5 160,794.4 152.5,798 146,797.2 154.4,791.6 167.5,783 178.8,773.8 188,762.5 193.8,756 203,757.8 208.8,749.4 211.9,744.4 215.6,736.9 219.4,727.5 224,721 226.5,717 227.5,712.5 220,711.9 212.5,711.3 217.5,706.3 221.3,698.8 225,692.5 230,683.8 235,676.3 240,667.5 242.5,662.5 247.5,665 253.8,667.5 257.5,670 262.5,666.3 265,661.3 270,660 271.9,661.9 275.6,664.7 288.8,663.8 275.6,660 285,656.3 294.4,647.8 283,650.6 273.8,647.8 281.3,645 286.9,635.6 277.5,636.6 270,639.4 256.9,640.3 238,641.3 219.4,644 206.3,645 203.8,642.5 200,638.8 195,642.5 190,641.3 185,643.8 180,642.5 176,637 172.5,642.5 173,634 178,631 183,628 187.5,621.3 192.5,612.5 190,606.9 186.3,612.5 180,621.3 175,627.5 167.5,625 160,622.5 155,618.8 157.5,611.3 165,608.8 170,602.5 161.3,595.6 153.8,600 152.5,607.5 145,608.8 137.5,605 132.5,598.5 120,600 109.7,601.9 116.3,596.3 121.9,590.6 129.4,588.8 136.9,585 131.3,577.5 121.9,575.6 116.3,570 120,566.3 131.3,562.5 142.5,564.4 136.9,560.6 135,555 142.5,553 153.8,552.3 163,555.5 172,558 164,553.5 156,550 157.5,543.8 154.7,532.5 156.3,521 162.5,517.5 175,515 187.5,515.6 197.5,515 206.3,510.6 197.5,505 203.8,500 205,491.3 197.5,490 187.5,488.8 175,487.5 172.5,483.8 168.8,491.3 160,495 155,492.5 155.5,482 156.8,474 156.3,466 157.5,458.8 160,452.5 165,442.5 171.3,433.8 162.5,438.8 160,446.3 152.5,448.8 147.5,442.5 151.3,437.5 160,435 156.3,430 153.8,421.3 160,411.3 152.5,413.8 148,413 144.8,419 142.6,430 139,438 135,441.3 129.6,438 130.4,428 133.5,420 137.5,411.3 133.8,406.3 137.5,401.3 147.5,392.5 152.5,398.8 150,403.8 155,407.5 162.5,405 165,398.8 171.3,397.5 176,399 180,402.5 185,406.3 180.5,400 175,393.8 167.5,392.5 166.3,387.5 175,384.4 185,387.5 195,390 207.5,391.3 218.8,392.5 230,396.3 236.3,390 243.8,392.5 250,400 255,408.8 247.5,412.5 253.8,413.8 262.5,420 265.3,420 268,414.4 275.6,399.4 285,398.4 300,403 309.4,406.9 316.9,403 325,403.8 331.3,406.3 336.3,413.8 340,417.5 347.5,415 341.3,415 333.8,410 336.3,405 340,401.3 350,402.5 351.3,400 342.5,398.8 351.3,396.3 350,391.3 342.5,393.8 341.3,387.5 330,390 327.5,383 335,378.8 342.5,373 350,368.8 355,363.8 356.9,358 362.5,367.5 368,359.4 377.5,356.3 381.3,352.5 385,350 383,346.3 386.3,342.5 390,337.5 392.5,332.5 396.3,328.8 400,325 398.8,318.8 392.5,320 385,323.8 380,325 378.8,318.8 372.5,322.5 365,330 357.5,333.8 365,327.5 362.5,322.5 360,318.8 355,325 353.8,320.6 347.5,321.3 340,323.8 332.5,321.3 325,318 318.8,315 312.5,312.5 310.6,305.6Z" fill="#73FFDF" stroke="none"/>
<path d="M60,960 140,990 215,935 236,862 250,838 392,835 399,858 410,880 450,950 450,1075 60,1075Z" fill="#73FFDF"/>
<path d="M152.5,985.6 155.3,998.8 161.9,996.9 171.3,989.4 180.6,983.8 188,978 197.5,976.3 208.8,972.5 214.4,966.9 225.6,963 233,955.6 234,947 235,941 246,936 257.6,930.8 253,926.5 246,920 247.5,908.8 243.8,895.6 240,882.5 238,869.4 245.6,860 250,845 262,838 262,792 40,792 40,1010 100,996 130,985.5 148,981.5Z" fill="#73FFDF"/>
<path d="M395.6,863.8 401.3,875 401.3,884.4 420,890 460,890 520,860 520,760 480,720 440,690 420,650 390,650 350,700 340,780 350,790 362,840 390,855Z" fill="#73FFDF"/>
<path d="M442.5,944 441,938 435,931 426,921 417,916 413,906 404,900 396,896 398,889 401.3,884.4 412.5,882.5 420,875 426.3,876.3 437.5,880 446.9,880 450.6,872.5 448.8,861.3 449.7,851.9 463.8,848 475,847.2 484.4,850 497.5,850 505,851.9 510.6,850 520,845 570,850 568,870 568,905 560,960 450,960Z" fill="#73FFDF"/>
<path d="M408.8,660 403,661.9 395.6,669.4 388,680.6 380.6,691.9 376.9,701.3 360,715 300,715 270,690 250,672 215,665 210,700 90,700 90,535 160,535 250,540 300,535 340,525 400,560 432,630 432,655Z" fill="#00E6A9"/>
<path d="M271.9,661.9 275.6,671.3 285,678.8 292.5,684.4 294.4,693.8 298,703 305.6,701.3 313,693.8 322.5,690 331.9,689 341.3,690 348.8,695.6 356.3,703 367.5,704 376.9,701.3 378.8,706.9 373,712.5 365.6,718 360,721.9 358,731.3 354.4,742.5 352.5,755.6 350.6,756.9 348.8,759.4 346.9,764.4 341.3,770 335,790 262,790 246,790.8 238,793.4 230,793.5 215,791.5 200,788 185,791 165,800 130,805 130,800 205,745 215,690 238,660 250,655Z" fill="#00E6A9"/>
<path d="M228.8,796.3 240,794.4 255,788.8 266.3,786.9 279.4,786 281.3,780.3 292.5,775.6 305.6,777 318.8,774.7 330,771.9 341.3,770 346.9,764.4 350.6,756.9 354.4,768 361.9,772.8 375,771 386.3,771.9 391,777.5 388,788.8 386.3,800 384.4,809.4 375,812.2 365.6,816.9 361.9,824.4 369.4,830 378.8,835.6 386.3,845 393.8,854.4 395.6,863.8 384.4,862.8 376.9,863.8 371.3,856.3 363.8,863.8 352.5,864.7 341.3,863.8 331.9,854.4 324.4,848.8 320.6,842.2 311.3,843 305.6,841.3 298,848.8 288.8,852.5 279.4,861.9 273.8,856.3 264.4,852.5 255,850.6 245.6,860 240,854.4 234.4,848.8 228.8,845 232.5,835.6 230.6,826.3 232.5,815 230.6,803.8Z" fill="#00A884"/>
<path d="M150,551.3 161.3,551.3 165,554 172.5,556.9 187.5,555 202.5,556 210,561.6 225,564.4 232.5,569 238,570 241.9,577.5 249.4,585 258.8,586.9 266.3,582.2 270,575.6 273.8,568 277.5,558.8 283,551.3 285,547.5 296.3,545.6 305.6,544.7 330,535 335,480 330,440 300,430 275,410 270,370 90,370 90,545Z" fill="#73FFDF"/>
<path d="M324,471 326.3,474.4 324.4,480 331.9,487.5 330,495 322.5,498.8 320.6,508 326.3,517.5 322.5,528.8 313,536.3 305.6,544.7 313,543.8 322.5,540 331.9,534.4 341.3,532.5 356.3,534.4 360,541.3 367.5,548 363.8,552.5 371.3,561.3 377.5,567.5 380,580 383.8,592.5 386.5,608 389,620 394,630 401.3,634.7 412.5,634.7 430,620 435,520 425,480 408,437 380,440 340,450 324,460Z" fill="#73FFDF"/>
<path d="M368,356 374,366 400,368 450,362 560,240 575,185 575,130 290,130 290,340 350,350Z" fill="#73FFDF"/>
<path d="M265.3,420 264.4,425.6 270,431.3 279.4,430.3 292.5,436.9 286.9,444.4 285,451.9 280.3,457.5 288.8,461.3 298,463 301.9,468.8 309.4,473.4 320.6,467.8 326.3,461.3 331.9,459.4 337.5,465 339.4,476.3 348.8,481.9 355,486 362.5,483 371.9,482.2 369,477.5 360.6,475.6 362.5,470 371.9,468 381.3,458.8 388.8,451.3 396.3,443.8 397.2,441.9 400,430 385,400 380,372 372,365 362.5,367.2 357,352 350,340 260,380 262,420Z" fill="#00E6A9"/>
<path d="M422,395 470,395 520,430 560,440 600,480 600,500 560,525 510,525 480,520 465,490 450,470 430,440 405,415 415,398Z" fill="#73FFDF"/>
<path d="M511.3,513 518,516 526,518.5 533,514 539,512.5 548.8,516 561.9,514.5 566.5,508 561,498 567.5,492.5 575,494 582.5,491.9 588,486 595,480 625,500 650,520 700,525 700,560 670,580 652,612 600,619 560,615 545,615 528,606.5 530,595 535,560 510,525Z" fill="#73FFDF"/>
<path d="M512.5,440 518.8,439.4 537.5,444.5 551,445 558,454.4 565,462 571.3,469.4 578.8,480.6 588,485.6 599.4,487.2 625,480 625,452 610,420 560,360 520,400 505,435Z" fill="#BEFFE8"/>
<path d="M564,867.5 568,876 570.5,886 569,897 569,906 700,906 700,740 640,740 610,760 590,790 575,815 560,830 555,860Z" fill="#00734C"/>
<path d="M465,748 480,735 530,714 551.3,746.3 565,760 575,800 572.5,823.4 567.8,832.8 566.9,840.3 562.2,846.9 562.2,856.3 559.4,861.9 564,867.5 559.4,867.8 548,870.6 538.8,866.9 531.3,872.5 523.8,865 516.3,857.5 510.6,850 506.9,842.5 503,831.3 495.6,821.9 499.4,814.4 497.5,803 495,795 491.3,785.6 485.6,774.4 478,765 468.8,757.5Z" fill="#00A884"/>
<path d="M552,746 547,752 547,760 554,766.5 560,773.5 562.5,782.5 566,792 567,804.7 568.8,809.4 569.7,817.8 572.5,823.4 578.1,820.6 582.8,812.2 585.6,805.6 589.4,797.5 593.4,784.7 599.4,779.4 606.9,777.5 612.5,770 616.3,764.4 615,750 630,740 632,722 600,712 568,720 560,735Z" fill="#00734C"/>
<path d="M665,547.5 657.5,555.6 653.8,561.3 642.5,560.3 636.5,568 642.5,576.5 648,582 649,588 645,598 640.6,604.4 631.3,608.8 615,620 615,640 630,655 690,660 700,640 700,545Z" fill="#00E6A9"/>
<path d="M631.3,644.4 644.4,646.3 650,653.8 655.6,645.3 665,648 672.5,645.3 682.8,648 710,648 710,757 679,755 676.3,750.3 665,743.8 655.6,743.8 648,745.6 642.5,749.4 638.8,758.8 631.3,768 623.8,770 616.3,764.4 610.6,755 602.2,747.5 606.9,738 612.5,741.9 620,741.9 627.5,734.4 628.4,725 621.9,723 616.3,724 610.6,719.4 599.4,717.5 595.6,710 589,698.8 593.8,687.5 599.4,680 608.8,674.4 616.3,668.8 620,655.6 627.5,648Z" fill="#73FFDF"/>
<path d="M546.9,609.7 548.8,605 556.3,597.5 567.5,595.6 575,601.3 582.5,605 591.9,599.4 605,601.3 616.3,606.9 623.8,605 631.3,608.8 629.4,616.3 622.8,625.6 623.8,635 631.3,644.4 627.5,648 620,655.6 616.3,668.8 608.8,674.4 599.4,680 593.8,687.5 589,698.8 595.6,710 599.4,717.5 593.8,719.4 588,725 578.8,727.8 568.4,725 560,722 545,700 540,670 541.9,656.3 548,655 554,650 552.8,642 555,633.5 560,625.5 555.5,619.5Z" fill="#00E6A9"/>
<path d="M541.9,656.3 545.6,661.9 549.4,671.3 553,682.5 547.5,693.8 549.4,701.3 558.8,705 566.3,716.3 567.2,727.5 566.3,736.9 558.8,742.5 551.3,746.3 547.5,742.5 541.9,735 538,727.5 532.5,723.8 525,727.5 517.5,731.3 508,736.9 502.5,744.4 495,748 487.5,744.4 480,740.6 472.5,744.4 465,748 463,738.8 457.5,731.3 459.4,721.9 465,714.4 458.4,706.9 461.3,699.4 465,691.9 470.6,682.5 475.3,675 468.8,667.5 469.7,660 480,658 489.4,654.4 496.9,654.4 502.5,649.7 510,654.4 512.8,660 517.5,665.6 526.9,663.8 532.5,658Z" fill="#00734C"/>
<path d="M432,615.5 446,614.5 456,613 465.5,605 473,604.5 477.8,612 484,620 493,622 503,618 513,612 524,605.5 531.9,599.4 537.5,603.5 546.9,610.5 555.5,619.5 560,625.5 555,633.5 552.8,642 554,650 548,655 541.9,656.3 532.5,658 526.9,663.8 517.5,665.6 512.8,660 510,654.4 502.5,649.7 496.9,654.4 489.4,654.4 480,658 469.7,660 468.8,667.5 475.3,675 470.6,682.5 465,691.9 461.3,699.4 458.4,706.9 450,705 444.4,706.9 438.8,714.4 435,721.9 427.5,725.6 422.8,733 420,727.5 412.5,721.9 414.4,714.4 421.9,710.6 420,701.3 425.6,697.5 423.8,688 429.4,678.8 423.8,669.4 414.4,662.8 408.8,660 412.5,654.4 421.9,648.8 423.8,641.3 413.5,634.2 416.3,624.4 425.6,618.8Z" fill="#00734C"/>
<path d="M501.9,516.9 511.3,513 518.8,520.6 524.4,528 535.6,539.4 543,545 548.8,548.8 555.3,543 561,546.9 558,552.5 558,561.9 550.6,571.3 552.5,578.8 546.9,586.3 541.3,593.8 531.9,599.4 524,605.5 513,612 503,618 493,622 484,620 477.8,612 473,604.5 465.5,605 456,613 446,614.5 432,615.5 428.8,601.3 424,590 425,576.9 436.3,572 455,573 464.4,571.3 473.8,560 478.4,552.5 473.8,546.9 481.3,543 486.9,535.6 496.3,530 503.8,524.4Z" fill="#00734C"/>
<path d="M468.1,482.2 477.5,486.9 477.5,500 486.9,499 492.5,505.6 501.9,516.9 503.8,524.4 496.3,530 486.9,535.6 481.3,543 473.8,546.9 478.4,552.5 473.8,560 464.4,571.3 455,573 436.3,572 425,576.9 417.5,563.8 413.8,550.6 423,535.6 430.6,522.5 434.4,513 431.5,507.5 436,500 455,485Z" fill="#00734C"/>
<path d="M362.5,368 368,359 375,357.5 382.5,360 387.5,358 395,360 398.8,362.5 403.8,371.3 408.8,378.8 417.5,383.8 423.8,393.8 425,397.5 421.3,405 415,408.8 411.3,415 413.8,420 412.5,423.8 418.8,426.3 428.1,428.8 435.6,440 443.1,444.7 446.9,441.9 455.3,447.5 465.6,458.8 473.1,464.4 475,473.8 471.3,479.4 468.1,482.2 460,488.8 452.5,496.3 446.9,505.6 441.3,507.5 433.8,507.5 430,501.9 422.5,496.3 419.7,486.9 411.3,485 404.7,475.6 409.4,470 407.5,458.8 415,451.3 411.3,443.8 401.9,440 397.2,441.9 388.8,432.5 377.5,425 372.8,413.8 372.8,398.8 366.3,385.6 371.9,376.3 370,367.8Z" fill="#73FFDF"/>
<path d="M599.4,487.2 606.9,482.5 605,471.3 614.4,467.5 616.3,460 612.5,453.4 621.9,450.6 627.5,447.8 633,450.6 640.6,448.8 642.5,438.4 648,440.3 651.9,438.4 657.5,443 690,445 690,524 659.4,523.8 650,531.3 644.4,533 638.8,527.5 631.3,529.4 633,521.9 621.9,514.4 614.4,505 610.6,495.6Z" fill="#00E6A9"/>
<path d="M517.5,223 510.6,222.8 503,228.4 499.4,236.9 499.4,245.3 493.8,251.9 493.8,265 488,275.3 480.6,283.8 479.7,293.1 469.4,298.8 458,300.6 448.8,301.6 443,297.8 435.6,302.5 431,306.3 433.8,312.8 440,318.8 447.5,322.5 456.3,320 458.8,323.8 450,330 443.8,336.3 440,340 432.5,342.5 425,341.3 418.8,342.5 415,347.5 410,353.8 405,357.5 398.8,362.5 403.8,371.3 408.8,378.8 417.5,383.8 423.8,393.8 425,397.5 430,396.3 435,400 437.5,405 438.8,415 443.8,420 453.8,418.8 461.3,421.3 467.5,427.5 469.4,428.8 486.3,437.2 503,434.4 512.5,440 510.6,432.5 513,430 520.6,424.4 521.9,419.4 530,413 533,410 529.4,398.8 531.3,389.4 542.5,376.3 550,369.7 561.3,374.4 572.5,383.8 578,398 588,409.4 597.5,418.8 601.3,424.4 603,433.8 602.2,443 608.8,454.4 612.5,453.4 621.9,450.6 627.5,447.8 633,450.6 640.6,448.8 642.5,438.4 648,440.3 651.9,438.4 657.5,443 668,451 681,460.5 700,470 790,470 790,140 575,140 572,185 559,188 545,200 530,212 520,222Z" fill="#FFFFFF"/>
</g>
<path d="M343.8,231.3 350.3,232.2 353.1,238.8 347.5,242.1 342.3,238.8Z" fill="#73FFDF" stroke="#a4acac" stroke-width="0.7"/>
<path d="M385,170.5 392,173.5 394,175.5 388,174Z" fill="#73FFDF" stroke="#a4acac" stroke-width="0.7"/>
<path d="M110,467.5 120,460 131.3,461.3 141.3,457.5 148.8,457.5 152.5,465 151.3,475 154,480 153.3,488.8 151.3,495 146.3,488.8 138.8,481.3 136.3,473.8 128.8,470 118.8,468.8Z" fill="#73FFDF" stroke="#a4acac" stroke-width="0.7"/>
<path d="M137.5,510 145,503.8 151.3,506.3 147.5,510 140,512.5Z" fill="#73FFDF" stroke="#a4acac" stroke-width="0.7"/>
<path d="M124.7,531.6 131.3,529.7 132.2,532.5 125.6,534.4Z" fill="#73FFDF" stroke="#a4acac" stroke-width="0.7"/>
<path d="M101.3,553 108.8,548.4 118,548.4 121.9,553 112.5,555 105,556Z" fill="#00E6A9" stroke="#a4acac" stroke-width="0.7"/>
<path d="M159.4,661.9 166.9,660 176.3,663.8 185.6,667.5 191.3,671.3 189.4,674 180,671.3 168.8,665.6Z" fill="#00E6A9" stroke="#a4acac" stroke-width="0.7"/>
<path d="M192.8,676.5 195.5,673.2 199.3,674.5 199.8,679 197,682 193.5,681Z" fill="#00E6A9" stroke="#a4acac" stroke-width="0.7"/>
<path d="M201.6,684 204.5,681.3 208.3,682 208,685.3 204,686.6Z" fill="#00E6A9" stroke="#a4acac" stroke-width="0.7"/>
<path d="M50.3,906.9 55,902 59.7,899.4 56,904.5Z" fill="#73FFDF" stroke="#a4acac" stroke-width="0.7"/>
<path d="M143.1,1011.9 152.5,1010 160,1011.9 152.5,1015.6 143.1,1015.6Z" fill="#73FFDF" stroke="#a4acac" stroke-width="0.7"/>
<path d="M197.5,1062.5 205,1056.9 206.9,1059.7 199.4,1063.4Z" fill="#73FFDF" stroke="#a4acac" stroke-width="0.7"/>
<path d="M646.3,162.5 650,160 660,161.3 661.3,170 657.5,167.5 656.5,163.8 652.5,164Z" fill="#FFFFFF" stroke="#a4acac" stroke-width="0.7"/>
<path d="M691,580 695,581.5 693,584Z" fill="#00E6A9" stroke="#a4acac" stroke-width="0.7"/>
<path d="M274.5,767 277.5,765.5 279,768.5 276,770.5Z" fill="#00E6A9" stroke="#a4acac" stroke-width="0.7"/>
<path d="M279.5,775 283,773.5 284.5,777 281,779Z" fill="#00E6A9" stroke="#a4acac" stroke-width="0.7"/>
<path d="M270,778 273.5,776.5 275,780 271.5,782Z" fill="#00E6A9" stroke="#a4acac" stroke-width="0.7"/>
<path d="M731.9,326.6 738.8,331.4 746.2,336.7 750.4,345.1 752.6,355.7 751.5,362.1 747.8,365.3 747.3,370.6 749.4,373.8 752.6,378 753.6,385.4 754.7,388.6 752,386 750.5,379 747.3,374 743,373.8 735.6,377 733,374.8 736.7,371.7 738.8,364.2 737.7,357.9 736.7,349.4 734.5,343 729.2,337.7 723.9,335.6 728.2,334.5Z" fill="#BEE8FF" stroke="#a4acac" stroke-width="0.5"/>
<path d="M456.9,182.5 458.8,190 461.3,195 460.3,205 457.5,211.3 458.8,204 459.6,196 457.3,190Z" fill="#BEE8FF" stroke="#a4acac" stroke-width="0.5"/>
<path d="M202.5,603.8 204,612 203,622 204.5,632 203.8,641 202,632 200.5,622 201,612Z" fill="#BEE8FF" stroke="#a4acac" stroke-width="0.5"/>
<path d="M77,953 87,947 95,943 96,944.5 88,949 78.5,954.5Z" fill="#BEE8FF" stroke="#a4acac" stroke-width="0.5"/>
<path d="M618.8,292.5 625,290 627.5,300 640,300 652.5,295 657.5,300 650,317.5 652.5,327.5 645,342.5 640,350 633.8,351.3 630,345 615,346.3 607.5,337.5 615,327.5 620,315 617.5,302.5Z" fill="#CFE6F7" stroke="#a4acac" stroke-width="0.7"/>
<path d="M622.5,276.3 625,275 625.5,285 623.5,290 622,285Z" fill="#CFE6F7" stroke="#a4acac" stroke-width="0.7"/>
<path d="M417,356.5 422.3,352.8 431.8,349.1 440.3,343.8 446.6,342.7 453,344.8 454.1,349.1 456.2,353.3 456.2,358.6 460.4,365 463.6,371.3 466.8,377.7 466.8,384.1 468.9,390.4 472.1,395.7 478.4,400 483.7,406.3 484.8,411.6 490.1,414.8 492.2,421.2 493.3,427.5 490.1,431.8 488.5,429.6 490.1,424.3 486.9,421.2 483.7,415.9 479.5,412.7 474.2,410.6 471,406.3 473.1,402.1 470,397.8 467.8,392.5 465.7,385.1 464.7,379.8 461.5,372.4 457.2,366 451.9,361.8 446.6,358.6 442.4,355.4 435,354.4 427.6,355.4 421.2,357Z" fill="#CFE6F7" stroke="#a4acac" stroke-width="0.7"/>
<path d="M713,263 717,266 722,274 724,281 721,279 717,271Z" fill="#CFE6F7" stroke="#a4acac" stroke-width="0.7"/>
<path d="M310.9,306.3 319.4,296 327.8,289.4 338.1,286.6 349.4,289.4 345.6,278.1 343.8,275 350,272.5 357.5,270 366.3,267.5 367.5,262.5 376.3,261.3 371.3,257.5 365,260 358.8,255 357.5,250 368.8,247.5 362.5,245 356.3,240 355,236.3 362.5,232.5 357.5,226.3 358.8,221.3 366.3,225 372.5,220 377.5,213.8 378.8,202.5 382.5,198.8 396.3,200 398.8,205 401.9,202.5 401.3,197.5 407.5,196.3 415,193.8 416.3,186.3 421.3,182.5 426.3,186.3 422.5,190 428.8,191.3 435,195 435.5,200 438,200.5 439.8,194.5 437.5,190 436.3,183.8 441.3,180 447.5,176.3 445,182.5 446.3,188.8 451.3,177.5 457.5,175 465,170 468.1,171.3 470,180 471.3,188.8 475,192.5 480,198.8 483.8,205 485,211.3 480,213.8 473.8,217.5 472.5,222.5 466.3,225 473.8,225.5 478.8,227.5 471.3,235 466.3,240 467.5,245 473.8,236.3 480,228.8 487.5,223.8 491.3,218.8 488.8,212.5 490,207.5 485,198.8 481.3,192.5 478.8,187.5 480,180 481.3,171.3 485,166.3 492.5,167.5 501.3,163.8 505,161.3 510,163.8 516.3,168.8 509,163 503.8,155 498.8,147.5 502.5,145.6 511.3,148.8 521.3,152.5 526.5,155.5 531.3,163.8 537.5,166.9 543.8,170.6 550,172.5 556.3,174.4 561.3,178.8 560,183.1 556.3,186.3 550,188.8 543.8,191.9 537.5,196.3 531.3,200.6 526.3,206.3 522.5,212.5 518.8,219.4 518.1,223.1 520,223.1 521.3,221.3 525,220 530,220.6 532.5,223.1 537.5,223.8 543.8,222.5 547.5,220 550.6,216.3 549.4,211.9 552.5,209.4 553.8,205 555.6,198.8 556.9,192.5 556.6,188.1 560,191.3 565.6,193.8 575,194.4 586.3,193.8 588.8,190 593.8,186.9 597.5,184.4 612.5,180 620,175 632.5,176.3 645,180 655,183.8 665,178.8 675,185 680,195 678.8,212.5 687.5,218.8 690,232.5 700,242.5 707.5,255 715,262.5 725,270 728.8,280 725,290 719.7,294.2 711.2,299.5 704.8,307 700.1,312.3 707,315.4 714.4,310.1 721.8,305.9 729.2,307 734.5,305.9 738.3,304.3 745.1,304.8 750.4,311.2 752.6,319.7 757.9,328.2 761,337.7 765.3,347.3 764.2,355.7 761,362.1 763.2,370.6 760,377 757.9,383.3 754.7,388.6 750.4,395 745.1,400.3 740.9,402.4 737.7,406.6 725,404.5 716.5,406.6 712,404 714.4,397.5 711,402 710.1,406.6 706.3,413 707.2,422.5 706.3,433.8 704.1,439.6 698.8,444.4 693.5,449.1 688.2,453.9 683.5,457.6 678.7,453.9 681.6,451.8 678.7,449.1 675,448.6 668.1,446.5 666,442.8 661.8,440.4 656.5,441.2 659.7,446.5 667,451.8 674.5,456.6 677.7,463.5 673.4,467.7 667,467.7 659.6,465 653.8,461.8 647.5,460.2 643.2,462.4 645.3,466 642.7,470.8 641.6,478.2 642.5,480.6 648,490 659.4,496.6 659.4,506.9 663,512.5 659.4,523.8 663,538.8 665,548 676.3,559.4 682.8,563 684.7,570.6 678,578 681.9,582.8 676.3,587.5 680,595 687.5,604.5 690,608.8 683.8,610.6 674.4,610.6 668.8,618 676.3,625.6 681.9,633 682.8,648 689.4,659.4 693,672.5 693,687.5 698.8,702.5 695,713.8 691.3,728.8 683.8,740 680,749.4 679,755 675.6,762 671,778.8 673,793 672.8,800 669,808.4 662.5,818.8 656,831 652.2,837.5 651.3,844 652.2,847.8 647.5,846.9 640,847.8 638.1,840.8 631.6,847.3 637.2,848.2 640,854.4 643.8,858.1 648.4,865.6 653.1,870.3 658.8,872.7 656.9,877.8 653.1,887.2 648.4,885.8 640,884.8 629.7,885.8 620.3,888.6 615.6,883.4 610,879.7 602.5,879.7 595,881.6 592.2,877.8 595.9,871.3 596.9,868.4 594,869.4 590.3,875.9 585.6,880.6 586.6,884.4 581.9,890 577.2,893.8 573,900.8 572,899.4 575.3,892.8 574.4,884.4 570.6,877.8 565.9,872.2 564,867.5 565.5,874 565,879.7 566,886.3 563.1,893.8 559.4,896.6 548,899.7 550,893 542.5,893 538.8,896.9 529.4,898.8 512.5,900.6 501.3,904.4 490,908 482.5,911.9 475,911.9 471.3,915.6 482.5,919.4 480.6,926.9 475,932.5 465.6,936.3 458,940 456.3,943.8 448.8,942.8 442.5,944 441.3,945 436.3,950 433.8,955 440,957.5 433.8,960 425,962.5 417.5,967.5 417.5,971.3 410,973.8 400,976.3 395,980 387.5,978.8 382.8,978.5 383.5,973 386,967 392,964.5 385.5,965.8 382,970 380.5,975 377,972 380,978 376.3,983.8 375,990 370,995 362.5,998.8 357.5,1002.5 350,1005 345,1005 342.5,1010 340,1015 341.3,1021.3 336.3,1013.8 327.5,1015 322.5,1012.5 317.5,1015 319.4,1021.3 316.3,1028.8 310,1029.4 302.5,1026.3 295,1025 291.3,1027.5 287.5,1035 281.3,1038.8 275,1033.8 271.3,1032.5 263.8,1033.1 256.3,1036.3 250,1040 246.3,1043.8 236.9,1047.5 227.5,1049.4 220,1051.3 210.6,1055 214.4,1043.8 216.3,1034.4 208.8,1032.5 205,1041.9 195.6,1040 186.3,1045.6 178.8,1041.9 171.3,1049.4 163.8,1053 155.3,1055 153.4,1049.4 160,1044.7 171.3,1040 180.6,1032.5 190,1025 197.5,1018.4 186.3,1022 175,1026.9 161.9,1032.5 151.6,1034.4 160,1028.8 171.3,1021.3 182.5,1013.8 193.8,1008 201.3,1002.5 208.8,1000.6 209.7,995 199.4,993 195.6,987.5 193.8,993 186.3,996.9 178.8,1000.6 169.4,1002.5 158,1006.3 145,1008 141.3,1011.9 133.8,1016.6 124.4,1019.4 115,1020.3 105.6,1022 95.3,1023 101.9,1018.4 109.4,1015.6 118.8,1011.9 115,1004.4 122.5,1002.5 128,995 137.5,991.3 146.9,985.6 152.5,985.6 154.4,980 161.9,974.4 171.3,968.8 182.5,963 190,958.4 180.6,960.3 167.5,963 152.5,967.8 145,970.6 133.8,974.4 122.5,980 113,983.8 103.8,978 105.6,972.5 103.8,965 94.4,963 88.8,970.6 81.3,974.4 80.3,961.3 73.8,955.6 70,951.9 75.6,945.3 85,938.8 92.5,932.2 101.9,925.6 115,920 122.5,918 133.8,915.3 141.3,912.5 145,905 152.5,901.3 161.9,896.6 161.9,891.9 152.5,891 137.5,892.8 126.3,893.8 115,897.5 101.9,899.4 88.8,895.6 81.3,897.5 70,902.2 64.4,899.4 67.2,891.9 68,883.4 74.7,878.8 80.3,878.8 85,871.3 94.4,867.5 105.6,860 111.3,861.9 109.4,867.5 113,871.3 122.5,869.4 128,863.8 130,856.3 131.9,863.8 137.5,871.3 146.9,874 160,871.3 169.4,868.4 160,863.8 152.5,860 157.2,854.4 158,845 156.3,837.5 145,833.8 144,830 150.6,829 160,826.3 171.3,820.6 178.8,816.9 180.6,809.4 182.5,800 188,795.3 195.6,794.4 205,798 212.5,796.3 220,794.4 227.5,796.3 240,794.4 255,788.8 266.3,786.9 279.4,786 281.3,780.3 288,773 285.6,764.4 283.8,756.9 285,750 283.8,747.5 274.4,756.9 270.6,762.5 266.9,773.8 261.3,781.3 255.6,786.3 246.3,789.2 238.8,792 231.3,790.6 238.8,785 236.9,782 229.4,786 218,787.8 208.8,785 203,781.3 201.3,775.6 197.5,779.4 188,783 178.8,788.8 171.3,792.5 160,794.4 152.5,798 146,797.2 154.4,791.6 167.5,783 178.8,773.8 188,762.5 193.8,756 203,757.8 208.8,749.4 211.9,744.4 215.6,736.9 219.4,727.5 224,721 226.5,717 227.5,712.5 220,711.9 212.5,711.3 217.5,706.3 221.3,698.8 225,692.5 230,683.8 235,676.3 240,667.5 242.5,662.5 247.5,665 253.8,667.5 257.5,670 262.5,666.3 265,661.3 270,660 271.9,661.9 275.6,664.7 288.8,663.8 275.6,660 285,656.3 294.4,647.8 283,650.6 273.8,647.8 281.3,645 286.9,635.6 277.5,636.6 270,639.4 256.9,640.3 238,641.3 219.4,644 206.3,645 203.8,642.5 200,638.8 195,642.5 190,641.3 185,643.8 180,642.5 176,637 172.5,642.5 173,634 178,631 183,628 187.5,621.3 192.5,612.5 190,606.9 186.3,612.5 180,621.3 175,627.5 167.5,625 160,622.5 155,618.8 157.5,611.3 165,608.8 170,602.5 161.3,595.6 153.8,600 152.5,607.5 145,608.8 137.5,605 132.5,598.5 120,600 109.7,601.9 116.3,596.3 121.9,590.6 129.4,588.8 136.9,585 131.3,577.5 121.9,575.6 116.3,570 120,566.3 131.3,562.5 142.5,564.4 136.9,560.6 135,555 142.5,553 153.8,552.3 163,555.5 172,558 164,553.5 156,550 157.5,543.8 154.7,532.5 156.3,521 162.5,517.5 175,515 187.5,515.6 197.5,515 206.3,510.6 197.5,505 203.8,500 205,491.3 197.5,490 187.5,488.8 175,487.5 172.5,483.8 168.8,491.3 160,495 155,492.5 155.5,482 156.8,474 156.3,466 157.5,458.8 160,452.5 165,442.5 171.3,433.8 162.5,438.8 160,446.3 152.5,448.8 147.5,442.5 151.3,437.5 160,435 156.3,430 153.8,421.3 160,411.3 152.5,413.8 148,413 144.8,419 142.6,430 139,438 135,441.3 129.6,438 130.4,428 133.5,420 137.5,411.3 133.8,406.3 137.5,401.3 147.5,392.5 152.5,398.8 150,403.8 155,407.5 162.5,405 165,398.8 171.3,397.5 176,399 180,402.5 185,406.3 180.5,400 175,393.8 167.5,392.5 166.3,387.5 175,384.4 185,387.5 195,390 207.5,391.3 218.8,392.5 230,396.3 236.3,390 243.8,392.5 250,400 255,408.8 247.5,412.5 253.8,413.8 262.5,420 265.3,420 268,414.4 275.6,399.4 285,398.4 300,403 309.4,406.9 316.9,403 325,403.8 331.3,406.3 336.3,413.8 340,417.5 347.5,415 341.3,415 333.8,410 336.3,405 340,401.3 350,402.5 351.3,400 342.5,398.8 351.3,396.3 350,391.3 342.5,393.8 341.3,387.5 330,390 327.5,383 335,378.8 342.5,373 350,368.8 355,363.8 356.9,358 362.5,367.5 368,359.4 377.5,356.3 381.3,352.5 385,350 383,346.3 386.3,342.5 390,337.5 392.5,332.5 396.3,328.8 400,325 398.8,318.8 392.5,320 385,323.8 380,325 378.8,318.8 372.5,322.5 365,330 357.5,333.8 365,327.5 362.5,322.5 360,318.8 355,325 353.8,320.6 347.5,321.3 340,323.8 332.5,321.3 325,318 318.8,315 312.5,312.5 310.6,305.6Z" fill="none" stroke="#a4acac" stroke-width="0.8" stroke-linejoin="round"/>
</g>
</g>
<rect x="826.8" y="60.6" width="724.3" height="1049.6" fill="none" stroke="#55626c" stroke-width="1.3"/>
<g font-size="10.5" text-anchor="middle" fill="#000">
<text x="421.3" y="251.1" font-weight="700">DONEGAL</text>
<text x="421.3" y="263.4">Obs: 5</text>
<text x="333.3" y="434.6" font-weight="700">SLIGO</text>
<text x="333.3" y="446.9">Obs: 3</text>
<text x="437.8" y="464.4" font-weight="700">LEITRIM</text>
<text x="437.8" y="476.7">Obs: 2</text>
<text x="563.3" y="427.8" font-weight="700">MONAGHAN</text>
<text x="563.3" y="440.1">Obs: 2</text>
<text x="518.3" y="465.6" font-weight="700">CAVAN</text>
<text x="518.3" y="477.9">Obs: 2</text>
<text x="621.8" y="483.6" font-weight="700">LOUTH</text>
<text x="621.8" y="495.9">Obs: 5</text>
<text x="253.8" y="481.1" font-weight="700">MAYO</text>
<text x="253.8" y="493.4">Obs: 4</text>
<text x="376.3" y="515.8" font-weight="700">ROSCOMMON</text>
<text x="376.3" y="528.1">Obs: 3</text>
<text x="458.3" y="531.6" font-weight="700">LONGFORD</text>
<text x="458.3" y="543.9">Obs: 2</text>
<text x="596.3" y="540.6" font-weight="700">MEATH</text>
<text x="596.3" y="552.9">Obs: 6</text>
<text x="509.3" y="574.1" font-weight="700">WESTMEATH</text>
<text x="509.3" y="586.4">Obs: 4</text>
<text x="656.8" y="599.1" font-weight="700">DUBLIN</text>
<text x="656.8" y="611.4">Obs: 63</text>
<text x="293.8" y="611.1" font-weight="700">GALWAY</text>
<text x="293.8" y="623.4">Obs: 7</text>
<text x="453.8" y="630.4" font-weight="700">OFFALY</text>
<text x="453.8" y="642.7">Obs: 4</text>
<text x="586.8" y="651.5" font-weight="700">KILDARE</text>
<text x="586.8" y="663.8">Obs: 8</text>
<text x="507.8" y="695.5" font-weight="700">LAOIS</text>
<text x="507.8" y="707.8">Obs: 3</text>
<text x="644.3" y="697.1" font-weight="700">WICKLOW</text>
<text x="644.3" y="709.4">Obs: 8</text>
<text x="261.8" y="707.1" font-weight="700">CLARE</text>
<text x="261.8" y="719.4">Obs: 5</text>
<text x="584.8" y="764.3" font-weight="700">CARLOW</text>
<text x="584.8" y="776.6">Obs: 2</text>
<text x="437.8" y="779.8" font-weight="700">TIPPERARY</text>
<text x="437.8" y="792.1">Obs: 7</text>
<text x="529.8" y="795.1" font-weight="700">KILKENNY</text>
<text x="529.8" y="807.4">Obs: 3</text>
<text x="297.8" y="814.6" font-weight="700">LIMERICK</text>
<text x="297.8" y="826.9">Obs: 8</text>
<text x="618.3" y="820.1" font-weight="700">WEXFORD</text>
<text x="618.3" y="832.4">Obs: 6</text>
<text x="491.3" y="880.4" font-weight="700">WATERFORD</text>
<text x="491.3" y="892.7">Obs: 5</text>
<text x="202.8" y="899.2" font-weight="700">KERRY</text>
<text x="202.8" y="911.5">Obs: 7</text>
<text x="339.8" y="932.2" font-weight="700">CORK</text>
<text x="339.8" y="944.5">Obs: 21</text>
</g>
<g font-size="10.5" text-anchor="middle" fill="#000">
<text x="1202" y="251.1" font-weight="700">DONEGAL</text>
<text x="1202" y="263.4">Obs: 9</text>
<text x="1114" y="434.6" font-weight="700">SLIGO</text>
<text x="1114" y="446.9">Obs: 4</text>
<text x="1218.5" y="465.2" font-weight="700">LEITRIM</text>
<text x="1218.5" y="477.5">Obs: 2</text>
<text x="1344" y="427.8" font-weight="700">MONAGHAN</text>
<text x="1344" y="440.1">Obs: 3</text>
<text x="1299" y="465.6" font-weight="700">CAVAN</text>
<text x="1299" y="477.9">Obs: 4</text>
<text x="1402.5" y="483.6" font-weight="700">LOUTH</text>
<text x="1402.5" y="495.9">Obs: 8</text>
<text x="1034.5" y="481.1" font-weight="700">MAYO</text>
<text x="1034.5" y="493.4">Obs: 8</text>
<text x="1157" y="515.8" font-weight="700">ROSCOMMON</text>
<text x="1157" y="528.1">Obs: 4</text>
<text x="1239" y="531.6" font-weight="700">LONGFORD</text>
<text x="1239" y="543.9">Obs: 3</text>
<text x="1377" y="540.6" font-weight="700">MEATH</text>
<text x="1377" y="552.9">Obs: 11</text>
<text x="1290" y="574.1" font-weight="700">WESTMEATH</text>
<text x="1290" y="586.4">Obs: 7</text>
<text x="1437.5" y="599.1" font-weight="700">DUBLIN</text>
<text x="1437.5" y="611.4">Obs: 84</text>
<text x="1074.5" y="611.1" font-weight="700">GALWAY</text>
<text x="1074.5" y="623.4">Obs: 16</text>
<text x="1234.5" y="630.4" font-weight="700">OFFALY</text>
<text x="1234.5" y="642.7">Obs: 6</text>
<text x="1367.5" y="651.5" font-weight="700">KILDARE</text>
<text x="1367.5" y="663.8">Obs: 13</text>
<text x="1288.5" y="695.5" font-weight="700">LAOIS</text>
<text x="1288.5" y="707.8">Obs: 6</text>
<text x="1425" y="697.6" font-weight="700">WICKLOW</text>
<text x="1425" y="709.9">Obs: 9</text>
<text x="1042.5" y="707.1" font-weight="700">CLARE</text>
<text x="1042.5" y="719.4">Obs: 7</text>
<text x="1365.5" y="765.3" font-weight="700">CARLOW</text>
<text x="1365.5" y="777.6">Obs: 4</text>
<text x="1218.5" y="780.2" font-weight="700">TIPPERARY</text>
<text x="1218.5" y="792.5">Obs: 9</text>
<text x="1310.5" y="796" font-weight="700">KILKENNY</text>
<text x="1310.5" y="808.3">Obs: 7</text>
<text x="1078.5" y="814.6" font-weight="700">LIMERICK</text>
<text x="1078.5" y="826.9">Obs: 13</text>
<text x="1399" y="820.8" font-weight="700">WEXFORD</text>
<text x="1399" y="833.1">Obs: 11</text>
<text x="1272" y="880.4" font-weight="700">WATERFORD</text>
<text x="1272" y="892.7">Obs: 6</text>
<text x="983.5" y="899.2" font-weight="700">KERRY</text>
<text x="983.5" y="911.5">Obs: 9</text>
<text x="1120.5" y="932.2" font-weight="700">CORK</text>
<text x="1120.5" y="944.5">Obs: 32</text>
</g>
<text x="401" y="100.1" font-size="21.4" font-weight="700" text-anchor="middle">CANCER OF THE CERVIX UTERI (C53) 1994-2005</text>
<g font-size="10.72" text-anchor="middle">
<text x="173.4" y="159.2">Cancer of the cervix uteri</text>
<text x="173.4" y="171.4">Annual average over the 12 year period</text>
<text x="173.4" y="183.6">Standardised Incidence Ratio (SIR)</text>
</g>
<rect x="130.4" y="196.8" width="35.5" height="17.2" fill="#BEFFE8" stroke="#b0c4c8" stroke-width="0.7"/>
<text x="172.4" y="209.4" font-size="10.67">&lt;0.85</text>
<rect x="130.4" y="220.65" width="35.5" height="17.2" fill="#73FFDF" stroke="#b0c4c8" stroke-width="0.7"/>
<text x="172.4" y="233.25" font-size="10.67">0.85-0.95</text>
<rect x="130.4" y="244.5" width="35.5" height="17.2" fill="#00E6A9" stroke="#b0c4c8" stroke-width="0.7"/>
<text x="172.4" y="257.1" font-size="10.67">0.96-1.05</text>
<rect x="130.4" y="268.35" width="35.5" height="17.2" fill="#00A884" stroke="#b0c4c8" stroke-width="0.7"/>
<text x="172.4" y="280.95" font-size="10.67">1.06-1.15</text>
<rect x="130.4" y="292.2" width="35.5" height="17.2" fill="#00734C" stroke="#b0c4c8" stroke-width="0.7"/>
<text x="172.4" y="304.8" font-size="10.67">1.16+</text>
<text x="98.8" y="641.9" font-size="23.6" text-anchor="middle">N</text>
<path d="M98.6,647.9 L81.1,704.4 L98.6,683.4Z" fill="#000"/>
<path d="M99,653.7 L113.2,700.8 L99,684.4Z" fill="none" stroke="#000" stroke-width="1.7" stroke-linejoin="miter" stroke-miterlimit="10"/>
<path d="M456.2,995.6H707.7M456.7,995.6V989.6M488.012,995.6V989.6M519.325,995.6V989.6M550.638,995.6V989.6M581.95,995.6V989.6M613.263,995.6V989.6M644.575,995.6V989.6M675.888,995.6V989.6M707.2,995.6V989.6" stroke="#111" stroke-width="1.1" fill="none"/>
<g font-size="8.3" text-anchor="middle">
<text x="456.7" y="986">0</text><text x="519.325" y="986">30</text><text x="581.95" y="986">60</text>
</g>
<text x="700.9" y="986" font-size="8.3" textLength="52.8" lengthAdjust="spacingAndGlyphs">120 Kilometres</text>
<g font-size="10.75">
<text x="441.4" y="1018.2">Map shows the results of analysis of cancer rates in each county</text>
<text x="441.4" y="1030.47">compared to overall national rates (indirect age standardization or</text>
<text x="441.4" y="1042.74">Standardised Incidence Ratios &#8216;SIRs&#8217;);</text>
<text x="441.4" y="1055.01"><tspan text-decoration="underline">Obs </tspan>refers to the annual average number of cases observed.</text>
</g>
<g font-size="7.97" fill="#9fb4c2" text-anchor="middle">
<text x="401.25" y="1093.2">Source: Includes Ordnance Survey Ireland data reproduced under OSi Licence Number NCRI/0305. Unauthorised reproduction infringes Ordnance Survey Ireland and Government of Ireland copyright.</text>
<text x="402" y="1101.7">&#169; Ordnance Survey Ireland 2009</text>
</g>
<text x="1202" y="100.1" font-size="21.4" font-weight="700" text-anchor="middle">CANCER OF THE CERVIX UTERI (C53) 2006-2017</text>
<g font-size="10.72" text-anchor="middle">
<text x="944.9" y="159.2">Cancer of the cervix uteri</text>
<text x="944.9" y="171.4">Annual average over the 12 year period</text>
<text x="944.9" y="183.6">Standardised Incidence Ratio (SIR)</text>
</g>
<rect x="901.9" y="196.8" width="35.5" height="17.2" fill="#BEFFE8" stroke="#b0c4c8" stroke-width="0.7"/>
<text x="943.9" y="209.4" font-size="10.67">&lt;0.85</text>
<rect x="901.9" y="220.65" width="35.5" height="17.2" fill="#73FFDF" stroke="#b0c4c8" stroke-width="0.7"/>
<text x="943.9" y="233.25" font-size="10.67">0.85-0.95</text>
<rect x="901.9" y="244.5" width="35.5" height="17.2" fill="#00E6A9" stroke="#b0c4c8" stroke-width="0.7"/>
<text x="943.9" y="257.1" font-size="10.67">0.96-1.05</text>
<rect x="901.9" y="268.35" width="35.5" height="17.2" fill="#00A884" stroke="#b0c4c8" stroke-width="0.7"/>
<text x="943.9" y="280.95" font-size="10.67">1.06-1.15</text>
<rect x="901.9" y="292.2" width="35.5" height="17.2" fill="#00734C" stroke="#b0c4c8" stroke-width="0.7"/>
<text x="943.9" y="304.8" font-size="10.67">1.16+</text>
<text x="896.95" y="643" font-size="23.6" text-anchor="middle">N</text>
<path d="M896.75,649 L879.25,705.5 L896.75,684.5Z" fill="#000"/>
<path d="M897.15,654.8 L911.35,701.9 L897.15,685.5Z" fill="none" stroke="#000" stroke-width="1.7" stroke-linejoin="miter" stroke-miterlimit="10"/>
<path d="M1239.8,995.6H1491.3M1240.3,995.6V989.6M1271.61,995.6V989.6M1302.92,995.6V989.6M1334.24,995.6V989.6M1365.55,995.6V989.6M1396.86,995.6V989.6M1428.17,995.6V989.6M1459.49,995.6V989.6M1490.8,995.6V989.6" stroke="#111" stroke-width="1.1" fill="none"/>
<g font-size="8.3" text-anchor="middle">
<text x="1240.3" y="986">0</text><text x="1302.92" y="986">30</text><text x="1365.55" y="986">60</text>
</g>
<text x="1484.5" y="986" font-size="8.3" textLength="52.8" lengthAdjust="spacingAndGlyphs">120 Kilometres</text>
<g font-size="10.75">
<text x="1224.9" y="1018.2">Map shows the results of analysis of cancer rates in each county</text>
<text x="1224.9" y="1030.47">compared to overall national rates (indirect age standardization or</text>
<text x="1224.9" y="1042.74">Standardised Incidence Ratios &#8216;SIRs&#8217;);</text>
<text x="1224.9" y="1055.01"><tspan text-decoration="underline">Obs </tspan>refers to the annual average number of cases observed.</text>
</g>
<g font-size="7.97" fill="#9fb4c2" text-anchor="middle">
<text x="1184.25" y="1093.2">Source: Includes Ordnance Survey Ireland data reproduced under OSi Licence Number NCRI/0305. Unauthorised reproduction infringes Ordnance Survey Ireland and Government of Ireland copyright.</text>
<text x="1185" y="1101.7">&#169; Ordnance Survey Ireland 2009</text>
</g>
</svg></body></html>
